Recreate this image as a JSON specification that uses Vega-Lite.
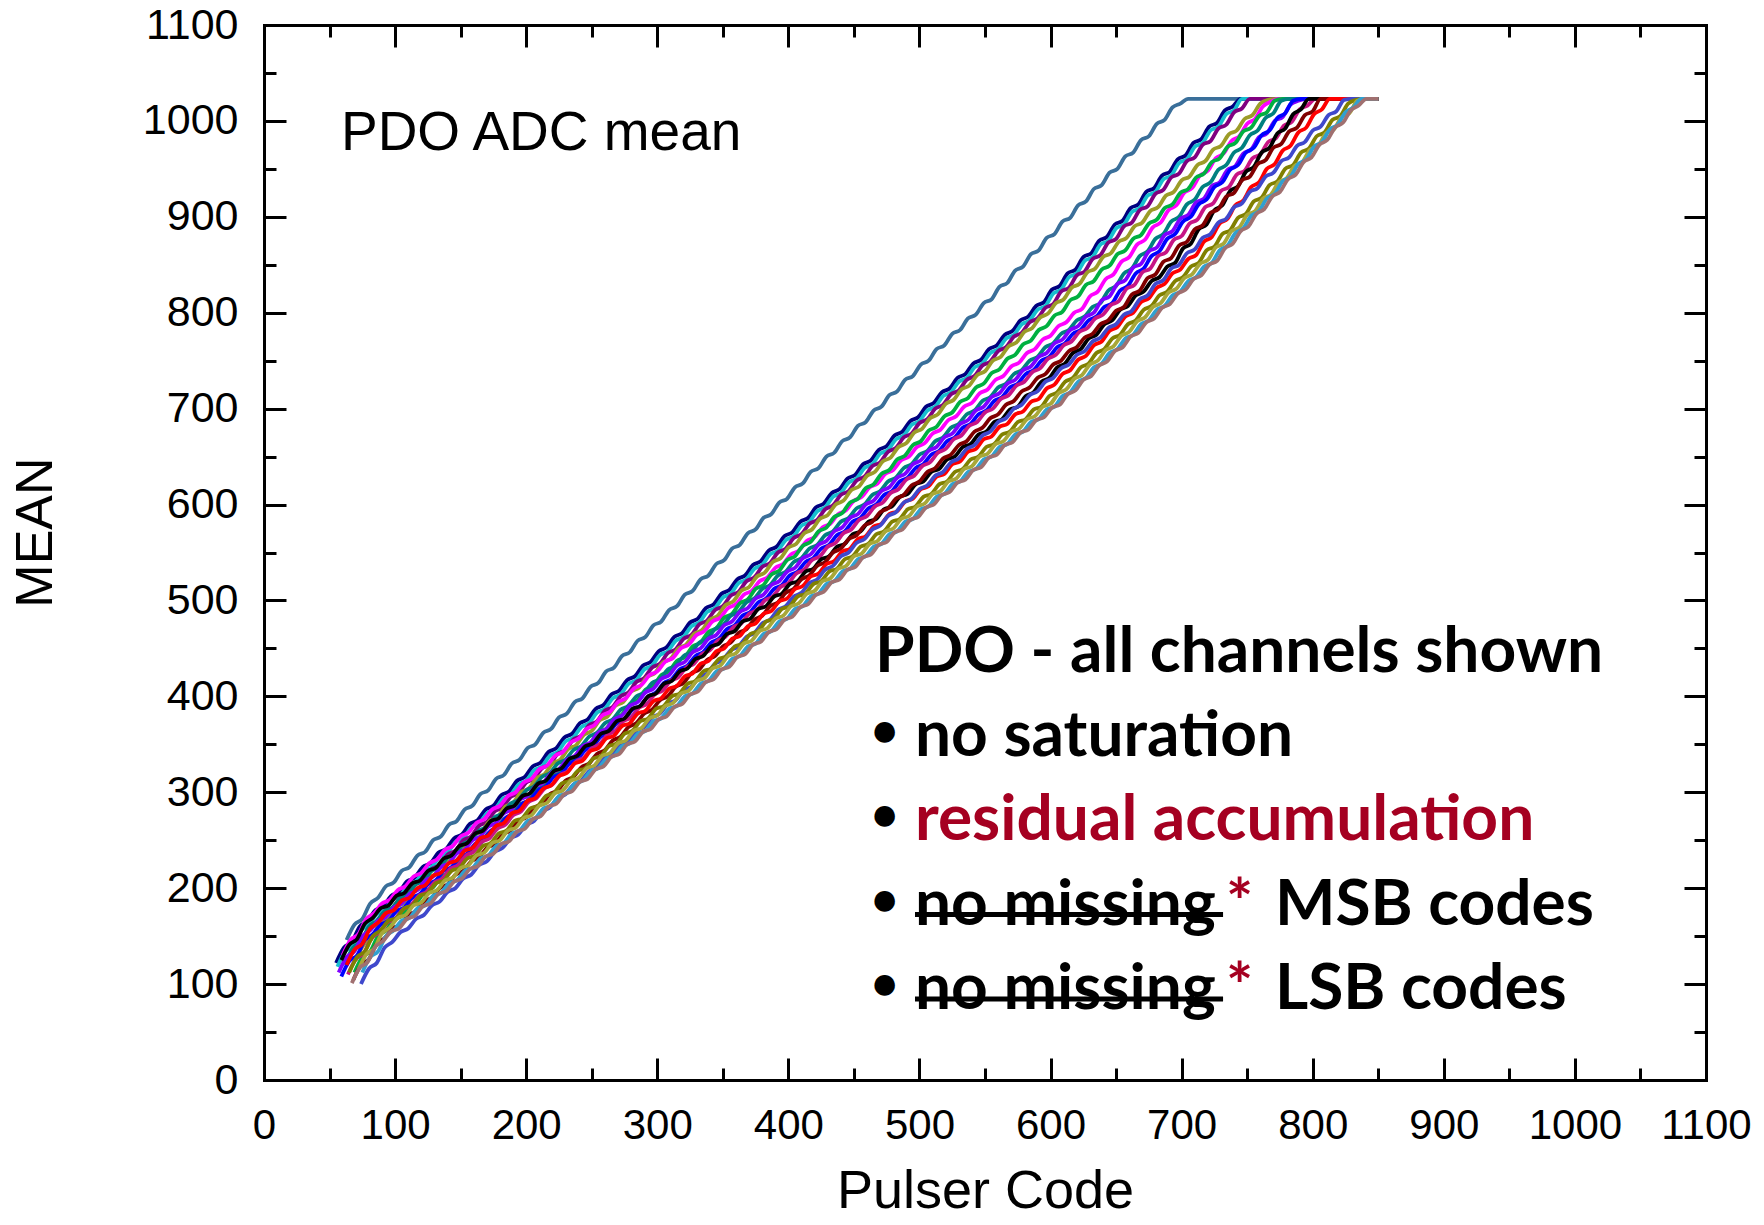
{
"$schema":"https://vega.github.io/schema/vega-lite/v6.json",
"width":1442,"height":1055,
"autosize":{"type":"none"},
"padding":{"left":264,"top":25,"right":58,"bottom":145},
"background":"white",
"config":{"view":{"stroke":null}},
"resolve":{"axis":{"x":"independent","y":"independent"}},
"layer":[
{"data":{"values":[
{"c":0,"x":63,"y":146},{"c":0,"x":69,"y":162},{"c":0,"x":75,"y":168},{"c":0,"x":81,"y":184},{"c":0,"x":87,"y":190},{"c":0,"x":93,"y":202},{"c":0,"x":99,"y":206},{"c":0,"x":105,"y":218},{"c":0,"x":111,"y":222},{"c":0,"x":117,"y":234},{"c":0,"x":123,"y":238},{"c":0,"x":129,"y":250},{"c":0,"x":135,"y":254},{"c":0,"x":141,"y":266},{"c":0,"x":147,"y":270},{"c":0,"x":153,"y":282},{"c":0,"x":159,"y":286},{"c":0,"x":165,"y":298},{"c":0,"x":171,"y":302},{"c":0,"x":177,"y":314},{"c":0,"x":183,"y":318},{"c":0,"x":189,"y":330},{"c":0,"x":195,"y":334},{"c":0,"x":201,"y":346},{"c":0,"x":207,"y":350},{"c":0,"x":213,"y":362},{"c":0,"x":219,"y":366},{"c":0,"x":225,"y":378},{"c":0,"x":231,"y":382},{"c":0,"x":237,"y":394},{"c":0,"x":243,"y":398},{"c":0,"x":249,"y":410},{"c":0,"x":255,"y":414},{"c":0,"x":261,"y":426},{"c":0,"x":267,"y":430},{"c":0,"x":273,"y":442},{"c":0,"x":279,"y":446},{"c":0,"x":285,"y":458},{"c":0,"x":291,"y":462},{"c":0,"x":297,"y":474},{"c":0,"x":303,"y":478},{"c":0,"x":309,"y":490},{"c":0,"x":315,"y":494},{"c":0,"x":321,"y":506},{"c":0,"x":327,"y":510},{"c":0,"x":333,"y":522},{"c":0,"x":339,"y":526},{"c":0,"x":345,"y":538},{"c":0,"x":351,"y":542},{"c":0,"x":357,"y":554},{"c":0,"x":363,"y":558},{"c":0,"x":369,"y":570},{"c":0,"x":375,"y":574},{"c":0,"x":381,"y":586},{"c":0,"x":387,"y":590},{"c":0,"x":393,"y":602},{"c":0,"x":399,"y":606},{"c":0,"x":405,"y":618},{"c":0,"x":411,"y":622},{"c":0,"x":417,"y":634},{"c":0,"x":423,"y":638},{"c":0,"x":429,"y":650},{"c":0,"x":435,"y":654},{"c":0,"x":441,"y":666},{"c":0,"x":447,"y":670},{"c":0,"x":453,"y":682},{"c":0,"x":459,"y":686},{"c":0,"x":465,"y":698},{"c":0,"x":471,"y":702},{"c":0,"x":477,"y":714},{"c":0,"x":483,"y":718},{"c":0,"x":489,"y":730},{"c":0,"x":495,"y":734},{"c":0,"x":501,"y":746},{"c":0,"x":507,"y":750},{"c":0,"x":513,"y":762},{"c":0,"x":519,"y":766},{"c":0,"x":525,"y":778},{"c":0,"x":531,"y":782},{"c":0,"x":537,"y":794},{"c":0,"x":543,"y":798},{"c":0,"x":549,"y":810},{"c":0,"x":555,"y":814},{"c":0,"x":561,"y":827},{"c":0,"x":567,"y":831},{"c":0,"x":573,"y":844},{"c":0,"x":579,"y":848},{"c":0,"x":585,"y":861},{"c":0,"x":591,"y":865},{"c":0,"x":597,"y":878},{"c":0,"x":603,"y":882},{"c":0,"x":609,"y":895},{"c":0,"x":615,"y":899},{"c":0,"x":621,"y":912},{"c":0,"x":627,"y":916},{"c":0,"x":633,"y":929},{"c":0,"x":639,"y":933},{"c":0,"x":645,"y":946},{"c":0,"x":651,"y":950},{"c":0,"x":657,"y":963},{"c":0,"x":663,"y":967},{"c":0,"x":669,"y":980},{"c":0,"x":675,"y":984},{"c":0,"x":681,"y":997},{"c":0,"x":687,"y":1001},{"c":0,"x":693,"y":1014},{"c":0,"x":699,"y":1018},{"c":0,"x":705,"y":1023},{"c":0,"x":850,"y":1023},
{"c":1,"x":55,"y":122},{"c":1,"x":61,"y":138},{"c":1,"x":67,"y":144},{"c":1,"x":73,"y":160},{"c":1,"x":79,"y":166},{"c":1,"x":85,"y":177},{"c":1,"x":91,"y":181},{"c":1,"x":97,"y":192},{"c":1,"x":103,"y":196},{"c":1,"x":109,"y":207},{"c":1,"x":115,"y":211},{"c":1,"x":121,"y":222},{"c":1,"x":127,"y":226},{"c":1,"x":133,"y":237},{"c":1,"x":139,"y":241},{"c":1,"x":145,"y":252},{"c":1,"x":151,"y":256},{"c":1,"x":157,"y":267},{"c":1,"x":163,"y":271},{"c":1,"x":169,"y":282},{"c":1,"x":175,"y":286},{"c":1,"x":181,"y":297},{"c":1,"x":187,"y":301},{"c":1,"x":193,"y":312},{"c":1,"x":199,"y":316},{"c":1,"x":205,"y":327},{"c":1,"x":211,"y":331},{"c":1,"x":217,"y":342},{"c":1,"x":223,"y":346},{"c":1,"x":229,"y":357},{"c":1,"x":235,"y":361},{"c":1,"x":241,"y":372},{"c":1,"x":247,"y":376},{"c":1,"x":253,"y":387},{"c":1,"x":259,"y":391},{"c":1,"x":265,"y":402},{"c":1,"x":271,"y":406},{"c":1,"x":277,"y":417},{"c":1,"x":283,"y":421},{"c":1,"x":289,"y":432},{"c":1,"x":295,"y":436},{"c":1,"x":301,"y":447},{"c":1,"x":307,"y":451},{"c":1,"x":313,"y":462},{"c":1,"x":319,"y":466},{"c":1,"x":325,"y":477},{"c":1,"x":331,"y":481},{"c":1,"x":337,"y":492},{"c":1,"x":343,"y":496},{"c":1,"x":349,"y":507},{"c":1,"x":355,"y":511},{"c":1,"x":361,"y":522},{"c":1,"x":367,"y":526},{"c":1,"x":373,"y":537},{"c":1,"x":379,"y":541},{"c":1,"x":385,"y":552},{"c":1,"x":391,"y":556},{"c":1,"x":397,"y":567},{"c":1,"x":403,"y":571},{"c":1,"x":409,"y":582},{"c":1,"x":415,"y":586},{"c":1,"x":421,"y":597},{"c":1,"x":427,"y":601},{"c":1,"x":433,"y":612},{"c":1,"x":439,"y":616},{"c":1,"x":445,"y":627},{"c":1,"x":451,"y":631},{"c":1,"x":457,"y":642},{"c":1,"x":463,"y":646},{"c":1,"x":469,"y":657},{"c":1,"x":475,"y":661},{"c":1,"x":481,"y":672},{"c":1,"x":487,"y":676},{"c":1,"x":493,"y":687},{"c":1,"x":499,"y":691},{"c":1,"x":505,"y":702},{"c":1,"x":511,"y":706},{"c":1,"x":517,"y":717},{"c":1,"x":523,"y":721},{"c":1,"x":529,"y":732},{"c":1,"x":535,"y":736},{"c":1,"x":541,"y":747},{"c":1,"x":547,"y":751},{"c":1,"x":553,"y":762},{"c":1,"x":559,"y":766},{"c":1,"x":565,"y":777},{"c":1,"x":571,"y":781},{"c":1,"x":577,"y":792},{"c":1,"x":583,"y":796},{"c":1,"x":589,"y":807},{"c":1,"x":595,"y":811},{"c":1,"x":601,"y":824},{"c":1,"x":607,"y":828},{"c":1,"x":613,"y":841},{"c":1,"x":619,"y":845},{"c":1,"x":625,"y":858},{"c":1,"x":631,"y":862},{"c":1,"x":637,"y":875},{"c":1,"x":643,"y":879},{"c":1,"x":649,"y":892},{"c":1,"x":655,"y":896},{"c":1,"x":661,"y":909},{"c":1,"x":667,"y":913},{"c":1,"x":673,"y":926},{"c":1,"x":679,"y":930},{"c":1,"x":685,"y":943},{"c":1,"x":691,"y":947},{"c":1,"x":697,"y":960},{"c":1,"x":703,"y":964},{"c":1,"x":709,"y":977},{"c":1,"x":715,"y":981},{"c":1,"x":721,"y":994},{"c":1,"x":727,"y":998},{"c":1,"x":733,"y":1011},{"c":1,"x":739,"y":1015},{"c":1,"x":745,"y":1023},{"c":1,"x":850,"y":1023},
{"c":2,"x":56,"y":118},{"c":2,"x":62,"y":134},{"c":2,"x":68,"y":140},{"c":2,"x":74,"y":156},{"c":2,"x":80,"y":162},{"c":2,"x":86,"y":173},{"c":2,"x":92,"y":177},{"c":2,"x":98,"y":188},{"c":2,"x":104,"y":192},{"c":2,"x":110,"y":203},{"c":2,"x":116,"y":207},{"c":2,"x":122,"y":218},{"c":2,"x":128,"y":222},{"c":2,"x":134,"y":233},{"c":2,"x":140,"y":237},{"c":2,"x":146,"y":248},{"c":2,"x":152,"y":252},{"c":2,"x":158,"y":263},{"c":2,"x":164,"y":267},{"c":2,"x":170,"y":278},{"c":2,"x":176,"y":282},{"c":2,"x":182,"y":293},{"c":2,"x":188,"y":297},{"c":2,"x":194,"y":308},{"c":2,"x":200,"y":312},{"c":2,"x":206,"y":323},{"c":2,"x":212,"y":327},{"c":2,"x":218,"y":338},{"c":2,"x":224,"y":342},{"c":2,"x":230,"y":353},{"c":2,"x":236,"y":357},{"c":2,"x":242,"y":368},{"c":2,"x":248,"y":372},{"c":2,"x":254,"y":383},{"c":2,"x":260,"y":387},{"c":2,"x":266,"y":398},{"c":2,"x":272,"y":402},{"c":2,"x":278,"y":413},{"c":2,"x":284,"y":417},{"c":2,"x":290,"y":428},{"c":2,"x":296,"y":432},{"c":2,"x":302,"y":443},{"c":2,"x":308,"y":447},{"c":2,"x":314,"y":458},{"c":2,"x":320,"y":462},{"c":2,"x":326,"y":473},{"c":2,"x":332,"y":477},{"c":2,"x":338,"y":488},{"c":2,"x":344,"y":492},{"c":2,"x":350,"y":503},{"c":2,"x":356,"y":507},{"c":2,"x":362,"y":518},{"c":2,"x":368,"y":522},{"c":2,"x":374,"y":533},{"c":2,"x":380,"y":537},{"c":2,"x":386,"y":548},{"c":2,"x":392,"y":552},{"c":2,"x":398,"y":563},{"c":2,"x":404,"y":567},{"c":2,"x":410,"y":578},{"c":2,"x":416,"y":582},{"c":2,"x":422,"y":593},{"c":2,"x":428,"y":597},{"c":2,"x":434,"y":608},{"c":2,"x":440,"y":612},{"c":2,"x":446,"y":623},{"c":2,"x":452,"y":627},{"c":2,"x":458,"y":638},{"c":2,"x":464,"y":642},{"c":2,"x":470,"y":653},{"c":2,"x":476,"y":657},{"c":2,"x":482,"y":668},{"c":2,"x":488,"y":672},{"c":2,"x":494,"y":683},{"c":2,"x":500,"y":687},{"c":2,"x":506,"y":698},{"c":2,"x":512,"y":702},{"c":2,"x":518,"y":713},{"c":2,"x":524,"y":717},{"c":2,"x":530,"y":728},{"c":2,"x":536,"y":732},{"c":2,"x":542,"y":743},{"c":2,"x":548,"y":747},{"c":2,"x":554,"y":758},{"c":2,"x":560,"y":762},{"c":2,"x":566,"y":773},{"c":2,"x":572,"y":777},{"c":2,"x":578,"y":788},{"c":2,"x":584,"y":792},{"c":2,"x":590,"y":803},{"c":2,"x":596,"y":807},{"c":2,"x":602,"y":820},{"c":2,"x":608,"y":824},{"c":2,"x":614,"y":837},{"c":2,"x":620,"y":841},{"c":2,"x":626,"y":854},{"c":2,"x":632,"y":858},{"c":2,"x":638,"y":871},{"c":2,"x":644,"y":875},{"c":2,"x":650,"y":888},{"c":2,"x":656,"y":892},{"c":2,"x":662,"y":905},{"c":2,"x":668,"y":909},{"c":2,"x":674,"y":922},{"c":2,"x":680,"y":926},{"c":2,"x":686,"y":939},{"c":2,"x":692,"y":943},{"c":2,"x":698,"y":956},{"c":2,"x":704,"y":960},{"c":2,"x":710,"y":973},{"c":2,"x":716,"y":977},{"c":2,"x":722,"y":990},{"c":2,"x":728,"y":994},{"c":2,"x":734,"y":1007},{"c":2,"x":740,"y":1011},{"c":2,"x":746,"y":1023},{"c":2,"x":850,"y":1023},
{"c":3,"x":62,"y":120},{"c":3,"x":68,"y":136},{"c":3,"x":74,"y":142},{"c":3,"x":80,"y":158},{"c":3,"x":86,"y":164},{"c":3,"x":92,"y":175},{"c":3,"x":98,"y":179},{"c":3,"x":104,"y":190},{"c":3,"x":110,"y":194},{"c":3,"x":116,"y":205},{"c":3,"x":122,"y":209},{"c":3,"x":128,"y":220},{"c":3,"x":134,"y":224},{"c":3,"x":140,"y":235},{"c":3,"x":146,"y":239},{"c":3,"x":152,"y":250},{"c":3,"x":158,"y":254},{"c":3,"x":164,"y":265},{"c":3,"x":170,"y":269},{"c":3,"x":176,"y":280},{"c":3,"x":182,"y":284},{"c":3,"x":188,"y":295},{"c":3,"x":194,"y":299},{"c":3,"x":200,"y":310},{"c":3,"x":206,"y":314},{"c":3,"x":212,"y":325},{"c":3,"x":218,"y":329},{"c":3,"x":224,"y":340},{"c":3,"x":230,"y":344},{"c":3,"x":236,"y":355},{"c":3,"x":242,"y":359},{"c":3,"x":248,"y":370},{"c":3,"x":254,"y":374},{"c":3,"x":260,"y":385},{"c":3,"x":266,"y":389},{"c":3,"x":272,"y":400},{"c":3,"x":278,"y":404},{"c":3,"x":284,"y":415},{"c":3,"x":290,"y":419},{"c":3,"x":296,"y":430},{"c":3,"x":302,"y":434},{"c":3,"x":308,"y":445},{"c":3,"x":314,"y":449},{"c":3,"x":320,"y":460},{"c":3,"x":326,"y":464},{"c":3,"x":332,"y":475},{"c":3,"x":338,"y":479},{"c":3,"x":344,"y":490},{"c":3,"x":350,"y":494},{"c":3,"x":356,"y":505},{"c":3,"x":362,"y":509},{"c":3,"x":368,"y":520},{"c":3,"x":374,"y":524},{"c":3,"x":380,"y":535},{"c":3,"x":386,"y":539},{"c":3,"x":392,"y":550},{"c":3,"x":398,"y":554},{"c":3,"x":404,"y":565},{"c":3,"x":410,"y":569},{"c":3,"x":416,"y":580},{"c":3,"x":422,"y":584},{"c":3,"x":428,"y":595},{"c":3,"x":434,"y":599},{"c":3,"x":440,"y":610},{"c":3,"x":446,"y":614},{"c":3,"x":452,"y":625},{"c":3,"x":458,"y":629},{"c":3,"x":464,"y":640},{"c":3,"x":470,"y":644},{"c":3,"x":476,"y":655},{"c":3,"x":482,"y":659},{"c":3,"x":488,"y":670},{"c":3,"x":494,"y":674},{"c":3,"x":500,"y":685},{"c":3,"x":506,"y":689},{"c":3,"x":512,"y":700},{"c":3,"x":518,"y":704},{"c":3,"x":524,"y":715},{"c":3,"x":530,"y":719},{"c":3,"x":536,"y":730},{"c":3,"x":542,"y":734},{"c":3,"x":548,"y":745},{"c":3,"x":554,"y":749},{"c":3,"x":560,"y":760},{"c":3,"x":566,"y":764},{"c":3,"x":572,"y":775},{"c":3,"x":578,"y":779},{"c":3,"x":584,"y":790},{"c":3,"x":590,"y":794},{"c":3,"x":596,"y":805},{"c":3,"x":602,"y":809},{"c":3,"x":608,"y":822},{"c":3,"x":614,"y":826},{"c":3,"x":620,"y":839},{"c":3,"x":626,"y":843},{"c":3,"x":632,"y":856},{"c":3,"x":638,"y":860},{"c":3,"x":644,"y":873},{"c":3,"x":650,"y":877},{"c":3,"x":656,"y":890},{"c":3,"x":662,"y":894},{"c":3,"x":668,"y":907},{"c":3,"x":674,"y":911},{"c":3,"x":680,"y":924},{"c":3,"x":686,"y":928},{"c":3,"x":692,"y":941},{"c":3,"x":698,"y":945},{"c":3,"x":704,"y":958},{"c":3,"x":710,"y":962},{"c":3,"x":716,"y":975},{"c":3,"x":722,"y":979},{"c":3,"x":728,"y":992},{"c":3,"x":734,"y":996},{"c":3,"x":740,"y":1009},{"c":3,"x":746,"y":1013},{"c":3,"x":752,"y":1023},{"c":3,"x":850,"y":1023},
{"c":4,"x":70,"y":125},{"c":4,"x":76,"y":141},{"c":4,"x":82,"y":147},{"c":4,"x":88,"y":163},{"c":4,"x":94,"y":169},{"c":4,"x":100,"y":180},{"c":4,"x":106,"y":184},{"c":4,"x":112,"y":195},{"c":4,"x":118,"y":199},{"c":4,"x":124,"y":210},{"c":4,"x":130,"y":214},{"c":4,"x":136,"y":225},{"c":4,"x":142,"y":229},{"c":4,"x":148,"y":240},{"c":4,"x":154,"y":244},{"c":4,"x":160,"y":255},{"c":4,"x":166,"y":259},{"c":4,"x":172,"y":270},{"c":4,"x":178,"y":274},{"c":4,"x":184,"y":285},{"c":4,"x":190,"y":289},{"c":4,"x":196,"y":300},{"c":4,"x":202,"y":304},{"c":4,"x":208,"y":315},{"c":4,"x":214,"y":319},{"c":4,"x":220,"y":330},{"c":4,"x":226,"y":334},{"c":4,"x":232,"y":345},{"c":4,"x":238,"y":349},{"c":4,"x":244,"y":360},{"c":4,"x":250,"y":364},{"c":4,"x":256,"y":375},{"c":4,"x":262,"y":379},{"c":4,"x":268,"y":390},{"c":4,"x":274,"y":394},{"c":4,"x":280,"y":405},{"c":4,"x":286,"y":409},{"c":4,"x":292,"y":420},{"c":4,"x":298,"y":424},{"c":4,"x":304,"y":435},{"c":4,"x":310,"y":439},{"c":4,"x":316,"y":450},{"c":4,"x":322,"y":454},{"c":4,"x":328,"y":465},{"c":4,"x":334,"y":469},{"c":4,"x":340,"y":480},{"c":4,"x":346,"y":484},{"c":4,"x":352,"y":495},{"c":4,"x":358,"y":499},{"c":4,"x":364,"y":510},{"c":4,"x":370,"y":514},{"c":4,"x":376,"y":525},{"c":4,"x":382,"y":529},{"c":4,"x":388,"y":540},{"c":4,"x":394,"y":544},{"c":4,"x":400,"y":555},{"c":4,"x":406,"y":559},{"c":4,"x":412,"y":570},{"c":4,"x":418,"y":574},{"c":4,"x":424,"y":585},{"c":4,"x":430,"y":589},{"c":4,"x":436,"y":600},{"c":4,"x":442,"y":604},{"c":4,"x":448,"y":615},{"c":4,"x":454,"y":619},{"c":4,"x":460,"y":630},{"c":4,"x":466,"y":634},{"c":4,"x":472,"y":645},{"c":4,"x":478,"y":649},{"c":4,"x":484,"y":660},{"c":4,"x":490,"y":664},{"c":4,"x":496,"y":675},{"c":4,"x":502,"y":679},{"c":4,"x":508,"y":690},{"c":4,"x":514,"y":694},{"c":4,"x":520,"y":705},{"c":4,"x":526,"y":709},{"c":4,"x":532,"y":720},{"c":4,"x":538,"y":724},{"c":4,"x":544,"y":735},{"c":4,"x":550,"y":739},{"c":4,"x":556,"y":750},{"c":4,"x":562,"y":754},{"c":4,"x":568,"y":765},{"c":4,"x":574,"y":769},{"c":4,"x":580,"y":780},{"c":4,"x":586,"y":784},{"c":4,"x":592,"y":795},{"c":4,"x":598,"y":799},{"c":4,"x":604,"y":810},{"c":4,"x":610,"y":814},{"c":4,"x":616,"y":826},{"c":4,"x":622,"y":830},{"c":4,"x":628,"y":842},{"c":4,"x":634,"y":846},{"c":4,"x":640,"y":858},{"c":4,"x":646,"y":862},{"c":4,"x":652,"y":874},{"c":4,"x":658,"y":878},{"c":4,"x":664,"y":890},{"c":4,"x":670,"y":894},{"c":4,"x":676,"y":906},{"c":4,"x":682,"y":910},{"c":4,"x":688,"y":922},{"c":4,"x":694,"y":926},{"c":4,"x":700,"y":938},{"c":4,"x":706,"y":942},{"c":4,"x":712,"y":954},{"c":4,"x":718,"y":958},{"c":4,"x":724,"y":970},{"c":4,"x":730,"y":974},{"c":4,"x":736,"y":986},{"c":4,"x":742,"y":990},{"c":4,"x":748,"y":1002},{"c":4,"x":754,"y":1006},{"c":4,"x":760,"y":1018},{"c":4,"x":766,"y":1022},{"c":4,"x":772,"y":1023},{"c":4,"x":850,"y":1023},
{"c":5,"x":60,"y":130},{"c":5,"x":66,"y":146},{"c":5,"x":72,"y":152},{"c":5,"x":78,"y":168},{"c":5,"x":84,"y":174},{"c":5,"x":90,"y":184},{"c":5,"x":96,"y":188},{"c":5,"x":102,"y":198},{"c":5,"x":108,"y":202},{"c":5,"x":114,"y":212},{"c":5,"x":120,"y":216},{"c":5,"x":126,"y":226},{"c":5,"x":132,"y":230},{"c":5,"x":138,"y":240},{"c":5,"x":144,"y":244},{"c":5,"x":150,"y":254},{"c":5,"x":156,"y":258},{"c":5,"x":162,"y":268},{"c":5,"x":168,"y":272},{"c":5,"x":174,"y":282},{"c":5,"x":180,"y":286},{"c":5,"x":186,"y":296},{"c":5,"x":192,"y":300},{"c":5,"x":198,"y":310},{"c":5,"x":204,"y":314},{"c":5,"x":210,"y":324},{"c":5,"x":216,"y":328},{"c":5,"x":222,"y":338},{"c":5,"x":228,"y":342},{"c":5,"x":234,"y":352},{"c":5,"x":240,"y":356},{"c":5,"x":246,"y":366},{"c":5,"x":252,"y":370},{"c":5,"x":258,"y":380},{"c":5,"x":264,"y":384},{"c":5,"x":270,"y":394},{"c":5,"x":276,"y":398},{"c":5,"x":282,"y":408},{"c":5,"x":288,"y":412},{"c":5,"x":294,"y":422},{"c":5,"x":300,"y":426},{"c":5,"x":306,"y":436},{"c":5,"x":312,"y":440},{"c":5,"x":318,"y":450},{"c":5,"x":324,"y":454},{"c":5,"x":330,"y":464},{"c":5,"x":336,"y":468},{"c":5,"x":342,"y":478},{"c":5,"x":348,"y":482},{"c":5,"x":354,"y":492},{"c":5,"x":360,"y":496},{"c":5,"x":366,"y":506},{"c":5,"x":372,"y":510},{"c":5,"x":378,"y":520},{"c":5,"x":384,"y":524},{"c":5,"x":390,"y":534},{"c":5,"x":396,"y":538},{"c":5,"x":402,"y":548},{"c":5,"x":408,"y":552},{"c":5,"x":414,"y":562},{"c":5,"x":420,"y":566},{"c":5,"x":426,"y":576},{"c":5,"x":432,"y":580},{"c":5,"x":438,"y":590},{"c":5,"x":444,"y":594},{"c":5,"x":450,"y":604},{"c":5,"x":456,"y":608},{"c":5,"x":462,"y":618},{"c":5,"x":468,"y":622},{"c":5,"x":474,"y":632},{"c":5,"x":480,"y":636},{"c":5,"x":486,"y":646},{"c":5,"x":492,"y":650},{"c":5,"x":498,"y":660},{"c":5,"x":504,"y":664},{"c":5,"x":510,"y":674},{"c":5,"x":516,"y":678},{"c":5,"x":522,"y":688},{"c":5,"x":528,"y":692},{"c":5,"x":534,"y":702},{"c":5,"x":540,"y":706},{"c":5,"x":546,"y":716},{"c":5,"x":552,"y":720},{"c":5,"x":558,"y":730},{"c":5,"x":564,"y":734},{"c":5,"x":570,"y":744},{"c":5,"x":576,"y":748},{"c":5,"x":582,"y":758},{"c":5,"x":588,"y":762},{"c":5,"x":594,"y":772},{"c":5,"x":600,"y":776},{"c":5,"x":606,"y":786},{"c":5,"x":612,"y":790},{"c":5,"x":618,"y":800},{"c":5,"x":624,"y":804},{"c":5,"x":630,"y":817},{"c":5,"x":636,"y":822},{"c":5,"x":642,"y":835},{"c":5,"x":648,"y":840},{"c":5,"x":654,"y":853},{"c":5,"x":660,"y":858},{"c":5,"x":666,"y":871},{"c":5,"x":672,"y":876},{"c":5,"x":678,"y":889},{"c":5,"x":684,"y":894},{"c":5,"x":690,"y":907},{"c":5,"x":696,"y":912},{"c":5,"x":702,"y":925},{"c":5,"x":708,"y":930},{"c":5,"x":714,"y":943},{"c":5,"x":720,"y":948},{"c":5,"x":726,"y":961},{"c":5,"x":732,"y":966},{"c":5,"x":738,"y":979},{"c":5,"x":744,"y":984},{"c":5,"x":750,"y":997},{"c":5,"x":756,"y":1002},{"c":5,"x":762,"y":1015},{"c":5,"x":768,"y":1020},{"c":5,"x":774,"y":1023},{"c":5,"x":850,"y":1023},
{"c":6,"x":69,"y":112},{"c":6,"x":75,"y":128},{"c":6,"x":81,"y":134},{"c":6,"x":87,"y":150},{"c":6,"x":93,"y":156},{"c":6,"x":99,"y":167},{"c":6,"x":105,"y":171},{"c":6,"x":111,"y":182},{"c":6,"x":117,"y":186},{"c":6,"x":123,"y":197},{"c":6,"x":129,"y":201},{"c":6,"x":135,"y":212},{"c":6,"x":141,"y":216},{"c":6,"x":147,"y":227},{"c":6,"x":153,"y":231},{"c":6,"x":159,"y":242},{"c":6,"x":165,"y":246},{"c":6,"x":171,"y":257},{"c":6,"x":177,"y":261},{"c":6,"x":183,"y":272},{"c":6,"x":189,"y":276},{"c":6,"x":195,"y":287},{"c":6,"x":201,"y":291},{"c":6,"x":207,"y":302},{"c":6,"x":213,"y":306},{"c":6,"x":219,"y":317},{"c":6,"x":225,"y":321},{"c":6,"x":231,"y":332},{"c":6,"x":237,"y":336},{"c":6,"x":243,"y":347},{"c":6,"x":249,"y":351},{"c":6,"x":255,"y":362},{"c":6,"x":261,"y":366},{"c":6,"x":267,"y":377},{"c":6,"x":273,"y":381},{"c":6,"x":279,"y":392},{"c":6,"x":285,"y":396},{"c":6,"x":291,"y":407},{"c":6,"x":297,"y":411},{"c":6,"x":303,"y":422},{"c":6,"x":309,"y":426},{"c":6,"x":315,"y":437},{"c":6,"x":321,"y":441},{"c":6,"x":327,"y":452},{"c":6,"x":333,"y":456},{"c":6,"x":339,"y":467},{"c":6,"x":345,"y":471},{"c":6,"x":351,"y":482},{"c":6,"x":357,"y":486},{"c":6,"x":363,"y":497},{"c":6,"x":369,"y":501},{"c":6,"x":375,"y":512},{"c":6,"x":381,"y":516},{"c":6,"x":387,"y":527},{"c":6,"x":393,"y":531},{"c":6,"x":399,"y":542},{"c":6,"x":405,"y":546},{"c":6,"x":411,"y":557},{"c":6,"x":417,"y":561},{"c":6,"x":423,"y":572},{"c":6,"x":429,"y":576},{"c":6,"x":435,"y":587},{"c":6,"x":441,"y":591},{"c":6,"x":447,"y":602},{"c":6,"x":453,"y":606},{"c":6,"x":459,"y":617},{"c":6,"x":465,"y":621},{"c":6,"x":471,"y":632},{"c":6,"x":477,"y":636},{"c":6,"x":483,"y":647},{"c":6,"x":489,"y":651},{"c":6,"x":495,"y":662},{"c":6,"x":501,"y":666},{"c":6,"x":507,"y":677},{"c":6,"x":513,"y":681},{"c":6,"x":519,"y":692},{"c":6,"x":525,"y":696},{"c":6,"x":531,"y":707},{"c":6,"x":537,"y":711},{"c":6,"x":543,"y":722},{"c":6,"x":549,"y":726},{"c":6,"x":555,"y":737},{"c":6,"x":561,"y":741},{"c":6,"x":567,"y":752},{"c":6,"x":573,"y":756},{"c":6,"x":579,"y":767},{"c":6,"x":585,"y":771},{"c":6,"x":591,"y":782},{"c":6,"x":597,"y":786},{"c":6,"x":603,"y":797},{"c":6,"x":609,"y":801},{"c":6,"x":615,"y":813},{"c":6,"x":621,"y":817},{"c":6,"x":627,"y":829},{"c":6,"x":633,"y":833},{"c":6,"x":639,"y":845},{"c":6,"x":645,"y":849},{"c":6,"x":651,"y":861},{"c":6,"x":657,"y":865},{"c":6,"x":663,"y":877},{"c":6,"x":669,"y":881},{"c":6,"x":675,"y":893},{"c":6,"x":681,"y":897},{"c":6,"x":687,"y":909},{"c":6,"x":693,"y":913},{"c":6,"x":699,"y":925},{"c":6,"x":705,"y":929},{"c":6,"x":711,"y":941},{"c":6,"x":717,"y":945},{"c":6,"x":723,"y":957},{"c":6,"x":729,"y":961},{"c":6,"x":735,"y":973},{"c":6,"x":741,"y":977},{"c":6,"x":747,"y":989},{"c":6,"x":753,"y":993},{"c":6,"x":759,"y":1005},{"c":6,"x":765,"y":1009},{"c":6,"x":771,"y":1021},{"c":6,"x":777,"y":1023},{"c":6,"x":850,"y":1023},
{"c":7,"x":62,"y":122},{"c":7,"x":68,"y":138},{"c":7,"x":74,"y":144},{"c":7,"x":80,"y":160},{"c":7,"x":86,"y":166},{"c":7,"x":92,"y":176},{"c":7,"x":98,"y":180},{"c":7,"x":104,"y":190},{"c":7,"x":110,"y":194},{"c":7,"x":116,"y":204},{"c":7,"x":122,"y":208},{"c":7,"x":128,"y":218},{"c":7,"x":134,"y":222},{"c":7,"x":140,"y":232},{"c":7,"x":146,"y":236},{"c":7,"x":152,"y":246},{"c":7,"x":158,"y":250},{"c":7,"x":164,"y":260},{"c":7,"x":170,"y":264},{"c":7,"x":176,"y":274},{"c":7,"x":182,"y":278},{"c":7,"x":188,"y":288},{"c":7,"x":194,"y":292},{"c":7,"x":200,"y":302},{"c":7,"x":206,"y":306},{"c":7,"x":212,"y":316},{"c":7,"x":218,"y":320},{"c":7,"x":224,"y":330},{"c":7,"x":230,"y":334},{"c":7,"x":236,"y":344},{"c":7,"x":242,"y":348},{"c":7,"x":248,"y":358},{"c":7,"x":254,"y":362},{"c":7,"x":260,"y":372},{"c":7,"x":266,"y":376},{"c":7,"x":272,"y":386},{"c":7,"x":278,"y":390},{"c":7,"x":284,"y":400},{"c":7,"x":290,"y":404},{"c":7,"x":296,"y":414},{"c":7,"x":302,"y":418},{"c":7,"x":308,"y":428},{"c":7,"x":314,"y":432},{"c":7,"x":320,"y":442},{"c":7,"x":326,"y":446},{"c":7,"x":332,"y":456},{"c":7,"x":338,"y":460},{"c":7,"x":344,"y":470},{"c":7,"x":350,"y":474},{"c":7,"x":356,"y":484},{"c":7,"x":362,"y":488},{"c":7,"x":368,"y":498},{"c":7,"x":374,"y":502},{"c":7,"x":380,"y":512},{"c":7,"x":386,"y":516},{"c":7,"x":392,"y":526},{"c":7,"x":398,"y":530},{"c":7,"x":404,"y":540},{"c":7,"x":410,"y":544},{"c":7,"x":416,"y":554},{"c":7,"x":422,"y":558},{"c":7,"x":428,"y":568},{"c":7,"x":434,"y":572},{"c":7,"x":440,"y":582},{"c":7,"x":446,"y":586},{"c":7,"x":452,"y":596},{"c":7,"x":458,"y":600},{"c":7,"x":464,"y":610},{"c":7,"x":470,"y":614},{"c":7,"x":476,"y":624},{"c":7,"x":482,"y":628},{"c":7,"x":488,"y":638},{"c":7,"x":494,"y":642},{"c":7,"x":500,"y":652},{"c":7,"x":506,"y":656},{"c":7,"x":512,"y":666},{"c":7,"x":518,"y":670},{"c":7,"x":524,"y":680},{"c":7,"x":530,"y":684},{"c":7,"x":536,"y":694},{"c":7,"x":542,"y":698},{"c":7,"x":548,"y":708},{"c":7,"x":554,"y":712},{"c":7,"x":560,"y":722},{"c":7,"x":566,"y":726},{"c":7,"x":572,"y":736},{"c":7,"x":578,"y":740},{"c":7,"x":584,"y":750},{"c":7,"x":590,"y":754},{"c":7,"x":596,"y":764},{"c":7,"x":602,"y":768},{"c":7,"x":608,"y":778},{"c":7,"x":614,"y":782},{"c":7,"x":620,"y":792},{"c":7,"x":626,"y":796},{"c":7,"x":632,"y":806},{"c":7,"x":638,"y":810},{"c":7,"x":644,"y":823},{"c":7,"x":650,"y":828},{"c":7,"x":656,"y":841},{"c":7,"x":662,"y":846},{"c":7,"x":668,"y":859},{"c":7,"x":674,"y":864},{"c":7,"x":680,"y":877},{"c":7,"x":686,"y":882},{"c":7,"x":692,"y":895},{"c":7,"x":698,"y":900},{"c":7,"x":704,"y":913},{"c":7,"x":710,"y":918},{"c":7,"x":716,"y":931},{"c":7,"x":722,"y":936},{"c":7,"x":728,"y":949},{"c":7,"x":734,"y":954},{"c":7,"x":740,"y":967},{"c":7,"x":746,"y":972},{"c":7,"x":752,"y":985},{"c":7,"x":758,"y":990},{"c":7,"x":764,"y":1003},{"c":7,"x":770,"y":1008},{"c":7,"x":776,"y":1021},{"c":7,"x":782,"y":1023},{"c":7,"x":850,"y":1023},
{"c":8,"x":57,"y":112},{"c":8,"x":63,"y":128},{"c":8,"x":69,"y":134},{"c":8,"x":75,"y":150},{"c":8,"x":81,"y":156},{"c":8,"x":87,"y":166},{"c":8,"x":93,"y":170},{"c":8,"x":99,"y":180},{"c":8,"x":105,"y":184},{"c":8,"x":111,"y":194},{"c":8,"x":117,"y":198},{"c":8,"x":123,"y":208},{"c":8,"x":129,"y":212},{"c":8,"x":135,"y":222},{"c":8,"x":141,"y":226},{"c":8,"x":147,"y":236},{"c":8,"x":153,"y":240},{"c":8,"x":159,"y":250},{"c":8,"x":165,"y":254},{"c":8,"x":171,"y":264},{"c":8,"x":177,"y":268},{"c":8,"x":183,"y":278},{"c":8,"x":189,"y":282},{"c":8,"x":195,"y":292},{"c":8,"x":201,"y":296},{"c":8,"x":207,"y":306},{"c":8,"x":213,"y":310},{"c":8,"x":219,"y":320},{"c":8,"x":225,"y":324},{"c":8,"x":231,"y":334},{"c":8,"x":237,"y":338},{"c":8,"x":243,"y":348},{"c":8,"x":249,"y":352},{"c":8,"x":255,"y":362},{"c":8,"x":261,"y":366},{"c":8,"x":267,"y":376},{"c":8,"x":273,"y":380},{"c":8,"x":279,"y":390},{"c":8,"x":285,"y":394},{"c":8,"x":291,"y":404},{"c":8,"x":297,"y":408},{"c":8,"x":303,"y":418},{"c":8,"x":309,"y":422},{"c":8,"x":315,"y":432},{"c":8,"x":321,"y":436},{"c":8,"x":327,"y":446},{"c":8,"x":333,"y":450},{"c":8,"x":339,"y":460},{"c":8,"x":345,"y":464},{"c":8,"x":351,"y":474},{"c":8,"x":357,"y":478},{"c":8,"x":363,"y":488},{"c":8,"x":369,"y":492},{"c":8,"x":375,"y":502},{"c":8,"x":381,"y":506},{"c":8,"x":387,"y":516},{"c":8,"x":393,"y":520},{"c":8,"x":399,"y":530},{"c":8,"x":405,"y":534},{"c":8,"x":411,"y":544},{"c":8,"x":417,"y":548},{"c":8,"x":423,"y":558},{"c":8,"x":429,"y":562},{"c":8,"x":435,"y":572},{"c":8,"x":441,"y":576},{"c":8,"x":447,"y":586},{"c":8,"x":453,"y":590},{"c":8,"x":459,"y":600},{"c":8,"x":465,"y":604},{"c":8,"x":471,"y":614},{"c":8,"x":477,"y":618},{"c":8,"x":483,"y":628},{"c":8,"x":489,"y":632},{"c":8,"x":495,"y":642},{"c":8,"x":501,"y":646},{"c":8,"x":507,"y":656},{"c":8,"x":513,"y":660},{"c":8,"x":519,"y":670},{"c":8,"x":525,"y":674},{"c":8,"x":531,"y":684},{"c":8,"x":537,"y":688},{"c":8,"x":543,"y":698},{"c":8,"x":549,"y":702},{"c":8,"x":555,"y":712},{"c":8,"x":561,"y":716},{"c":8,"x":567,"y":726},{"c":8,"x":573,"y":730},{"c":8,"x":579,"y":740},{"c":8,"x":585,"y":744},{"c":8,"x":591,"y":754},{"c":8,"x":597,"y":758},{"c":8,"x":603,"y":768},{"c":8,"x":609,"y":772},{"c":8,"x":615,"y":782},{"c":8,"x":621,"y":786},{"c":8,"x":627,"y":796},{"c":8,"x":633,"y":800},{"c":8,"x":639,"y":813},{"c":8,"x":645,"y":817},{"c":8,"x":651,"y":830},{"c":8,"x":657,"y":834},{"c":8,"x":663,"y":847},{"c":8,"x":669,"y":851},{"c":8,"x":675,"y":864},{"c":8,"x":681,"y":868},{"c":8,"x":687,"y":881},{"c":8,"x":693,"y":885},{"c":8,"x":699,"y":898},{"c":8,"x":705,"y":902},{"c":8,"x":711,"y":915},{"c":8,"x":717,"y":919},{"c":8,"x":723,"y":932},{"c":8,"x":729,"y":936},{"c":8,"x":735,"y":949},{"c":8,"x":741,"y":953},{"c":8,"x":747,"y":966},{"c":8,"x":753,"y":970},{"c":8,"x":759,"y":983},{"c":8,"x":765,"y":987},{"c":8,"x":771,"y":1000},{"c":8,"x":777,"y":1004},{"c":8,"x":783,"y":1017},{"c":8,"x":789,"y":1021},{"c":8,"x":795,"y":1023},{"c":8,"x":850,"y":1023},
{"c":9,"x":59,"y":108},{"c":9,"x":65,"y":124},{"c":9,"x":71,"y":130},{"c":9,"x":77,"y":146},{"c":9,"x":83,"y":152},{"c":9,"x":89,"y":162},{"c":9,"x":95,"y":166},{"c":9,"x":101,"y":176},{"c":9,"x":107,"y":180},{"c":9,"x":113,"y":190},{"c":9,"x":119,"y":194},{"c":9,"x":125,"y":204},{"c":9,"x":131,"y":208},{"c":9,"x":137,"y":218},{"c":9,"x":143,"y":222},{"c":9,"x":149,"y":232},{"c":9,"x":155,"y":236},{"c":9,"x":161,"y":246},{"c":9,"x":167,"y":250},{"c":9,"x":173,"y":260},{"c":9,"x":179,"y":264},{"c":9,"x":185,"y":274},{"c":9,"x":191,"y":278},{"c":9,"x":197,"y":288},{"c":9,"x":203,"y":292},{"c":9,"x":209,"y":302},{"c":9,"x":215,"y":306},{"c":9,"x":221,"y":316},{"c":9,"x":227,"y":320},{"c":9,"x":233,"y":330},{"c":9,"x":239,"y":334},{"c":9,"x":245,"y":344},{"c":9,"x":251,"y":348},{"c":9,"x":257,"y":358},{"c":9,"x":263,"y":362},{"c":9,"x":269,"y":372},{"c":9,"x":275,"y":376},{"c":9,"x":281,"y":386},{"c":9,"x":287,"y":390},{"c":9,"x":293,"y":400},{"c":9,"x":299,"y":404},{"c":9,"x":305,"y":414},{"c":9,"x":311,"y":418},{"c":9,"x":317,"y":428},{"c":9,"x":323,"y":432},{"c":9,"x":329,"y":442},{"c":9,"x":335,"y":446},{"c":9,"x":341,"y":456},{"c":9,"x":347,"y":460},{"c":9,"x":353,"y":470},{"c":9,"x":359,"y":474},{"c":9,"x":365,"y":484},{"c":9,"x":371,"y":488},{"c":9,"x":377,"y":498},{"c":9,"x":383,"y":502},{"c":9,"x":389,"y":512},{"c":9,"x":395,"y":516},{"c":9,"x":401,"y":526},{"c":9,"x":407,"y":530},{"c":9,"x":413,"y":540},{"c":9,"x":419,"y":544},{"c":9,"x":425,"y":554},{"c":9,"x":431,"y":558},{"c":9,"x":437,"y":568},{"c":9,"x":443,"y":572},{"c":9,"x":449,"y":582},{"c":9,"x":455,"y":586},{"c":9,"x":461,"y":596},{"c":9,"x":467,"y":600},{"c":9,"x":473,"y":610},{"c":9,"x":479,"y":614},{"c":9,"x":485,"y":624},{"c":9,"x":491,"y":628},{"c":9,"x":497,"y":638},{"c":9,"x":503,"y":642},{"c":9,"x":509,"y":652},{"c":9,"x":515,"y":656},{"c":9,"x":521,"y":666},{"c":9,"x":527,"y":670},{"c":9,"x":533,"y":680},{"c":9,"x":539,"y":684},{"c":9,"x":545,"y":694},{"c":9,"x":551,"y":698},{"c":9,"x":557,"y":708},{"c":9,"x":563,"y":712},{"c":9,"x":569,"y":722},{"c":9,"x":575,"y":726},{"c":9,"x":581,"y":736},{"c":9,"x":587,"y":740},{"c":9,"x":593,"y":750},{"c":9,"x":599,"y":754},{"c":9,"x":605,"y":764},{"c":9,"x":611,"y":768},{"c":9,"x":617,"y":778},{"c":9,"x":623,"y":782},{"c":9,"x":629,"y":792},{"c":9,"x":635,"y":796},{"c":9,"x":641,"y":806},{"c":9,"x":647,"y":810},{"c":9,"x":653,"y":823},{"c":9,"x":659,"y":828},{"c":9,"x":665,"y":841},{"c":9,"x":671,"y":846},{"c":9,"x":677,"y":859},{"c":9,"x":683,"y":864},{"c":9,"x":689,"y":877},{"c":9,"x":695,"y":882},{"c":9,"x":701,"y":895},{"c":9,"x":707,"y":900},{"c":9,"x":713,"y":913},{"c":9,"x":719,"y":918},{"c":9,"x":725,"y":931},{"c":9,"x":731,"y":936},{"c":9,"x":737,"y":949},{"c":9,"x":743,"y":954},{"c":9,"x":749,"y":967},{"c":9,"x":755,"y":972},{"c":9,"x":761,"y":985},{"c":9,"x":767,"y":990},{"c":9,"x":773,"y":1003},{"c":9,"x":779,"y":1008},{"c":9,"x":785,"y":1021},{"c":9,"x":791,"y":1023},{"c":9,"x":850,"y":1023},
{"c":10,"x":64,"y":110},{"c":10,"x":70,"y":126},{"c":10,"x":76,"y":132},{"c":10,"x":82,"y":148},{"c":10,"x":88,"y":154},{"c":10,"x":94,"y":164},{"c":10,"x":100,"y":168},{"c":10,"x":106,"y":178},{"c":10,"x":112,"y":182},{"c":10,"x":118,"y":192},{"c":10,"x":124,"y":196},{"c":10,"x":130,"y":206},{"c":10,"x":136,"y":210},{"c":10,"x":142,"y":220},{"c":10,"x":148,"y":224},{"c":10,"x":154,"y":234},{"c":10,"x":160,"y":238},{"c":10,"x":166,"y":248},{"c":10,"x":172,"y":252},{"c":10,"x":178,"y":262},{"c":10,"x":184,"y":266},{"c":10,"x":190,"y":276},{"c":10,"x":196,"y":280},{"c":10,"x":202,"y":290},{"c":10,"x":208,"y":294},{"c":10,"x":214,"y":304},{"c":10,"x":220,"y":308},{"c":10,"x":226,"y":318},{"c":10,"x":232,"y":322},{"c":10,"x":238,"y":332},{"c":10,"x":244,"y":336},{"c":10,"x":250,"y":346},{"c":10,"x":256,"y":350},{"c":10,"x":262,"y":360},{"c":10,"x":268,"y":364},{"c":10,"x":274,"y":374},{"c":10,"x":280,"y":378},{"c":10,"x":286,"y":388},{"c":10,"x":292,"y":392},{"c":10,"x":298,"y":402},{"c":10,"x":304,"y":406},{"c":10,"x":310,"y":416},{"c":10,"x":316,"y":420},{"c":10,"x":322,"y":430},{"c":10,"x":328,"y":434},{"c":10,"x":334,"y":444},{"c":10,"x":340,"y":448},{"c":10,"x":346,"y":458},{"c":10,"x":352,"y":462},{"c":10,"x":358,"y":472},{"c":10,"x":364,"y":476},{"c":10,"x":370,"y":486},{"c":10,"x":376,"y":490},{"c":10,"x":382,"y":500},{"c":10,"x":388,"y":504},{"c":10,"x":394,"y":514},{"c":10,"x":400,"y":518},{"c":10,"x":406,"y":528},{"c":10,"x":412,"y":532},{"c":10,"x":418,"y":542},{"c":10,"x":424,"y":546},{"c":10,"x":430,"y":556},{"c":10,"x":436,"y":560},{"c":10,"x":442,"y":570},{"c":10,"x":448,"y":574},{"c":10,"x":454,"y":584},{"c":10,"x":460,"y":588},{"c":10,"x":466,"y":598},{"c":10,"x":472,"y":602},{"c":10,"x":478,"y":612},{"c":10,"x":484,"y":616},{"c":10,"x":490,"y":626},{"c":10,"x":496,"y":630},{"c":10,"x":502,"y":640},{"c":10,"x":508,"y":644},{"c":10,"x":514,"y":654},{"c":10,"x":520,"y":658},{"c":10,"x":526,"y":668},{"c":10,"x":532,"y":672},{"c":10,"x":538,"y":682},{"c":10,"x":544,"y":686},{"c":10,"x":550,"y":696},{"c":10,"x":556,"y":700},{"c":10,"x":562,"y":710},{"c":10,"x":568,"y":714},{"c":10,"x":574,"y":724},{"c":10,"x":580,"y":728},{"c":10,"x":586,"y":738},{"c":10,"x":592,"y":742},{"c":10,"x":598,"y":752},{"c":10,"x":604,"y":756},{"c":10,"x":610,"y":766},{"c":10,"x":616,"y":770},{"c":10,"x":622,"y":780},{"c":10,"x":628,"y":784},{"c":10,"x":634,"y":794},{"c":10,"x":640,"y":798},{"c":10,"x":646,"y":808},{"c":10,"x":652,"y":812},{"c":10,"x":658,"y":825},{"c":10,"x":664,"y":829},{"c":10,"x":670,"y":842},{"c":10,"x":676,"y":846},{"c":10,"x":682,"y":859},{"c":10,"x":688,"y":863},{"c":10,"x":694,"y":876},{"c":10,"x":700,"y":880},{"c":10,"x":706,"y":893},{"c":10,"x":712,"y":897},{"c":10,"x":718,"y":910},{"c":10,"x":724,"y":914},{"c":10,"x":730,"y":927},{"c":10,"x":736,"y":931},{"c":10,"x":742,"y":944},{"c":10,"x":748,"y":948},{"c":10,"x":754,"y":961},{"c":10,"x":760,"y":965},{"c":10,"x":766,"y":978},{"c":10,"x":772,"y":982},{"c":10,"x":778,"y":995},{"c":10,"x":784,"y":999},{"c":10,"x":790,"y":1012},{"c":10,"x":796,"y":1016},{"c":10,"x":802,"y":1023},{"c":10,"x":850,"y":1023},
{"c":11,"x":59,"y":125},{"c":11,"x":65,"y":141},{"c":11,"x":71,"y":147},{"c":11,"x":77,"y":163},{"c":11,"x":83,"y":169},{"c":11,"x":89,"y":179},{"c":11,"x":95,"y":182},{"c":11,"x":101,"y":192},{"c":11,"x":107,"y":195},{"c":11,"x":113,"y":205},{"c":11,"x":119,"y":208},{"c":11,"x":125,"y":218},{"c":11,"x":131,"y":221},{"c":11,"x":137,"y":231},{"c":11,"x":143,"y":234},{"c":11,"x":149,"y":244},{"c":11,"x":155,"y":247},{"c":11,"x":161,"y":257},{"c":11,"x":167,"y":260},{"c":11,"x":173,"y":270},{"c":11,"x":179,"y":273},{"c":11,"x":185,"y":283},{"c":11,"x":191,"y":286},{"c":11,"x":197,"y":296},{"c":11,"x":203,"y":299},{"c":11,"x":209,"y":309},{"c":11,"x":215,"y":312},{"c":11,"x":221,"y":322},{"c":11,"x":227,"y":325},{"c":11,"x":233,"y":335},{"c":11,"x":239,"y":338},{"c":11,"x":245,"y":348},{"c":11,"x":251,"y":351},{"c":11,"x":257,"y":361},{"c":11,"x":263,"y":364},{"c":11,"x":269,"y":374},{"c":11,"x":275,"y":377},{"c":11,"x":281,"y":387},{"c":11,"x":287,"y":390},{"c":11,"x":293,"y":400},{"c":11,"x":299,"y":403},{"c":11,"x":305,"y":413},{"c":11,"x":311,"y":416},{"c":11,"x":317,"y":426},{"c":11,"x":323,"y":429},{"c":11,"x":329,"y":439},{"c":11,"x":335,"y":442},{"c":11,"x":341,"y":452},{"c":11,"x":347,"y":455},{"c":11,"x":353,"y":465},{"c":11,"x":359,"y":468},{"c":11,"x":365,"y":478},{"c":11,"x":371,"y":481},{"c":11,"x":377,"y":491},{"c":11,"x":383,"y":494},{"c":11,"x":389,"y":504},{"c":11,"x":395,"y":507},{"c":11,"x":401,"y":517},{"c":11,"x":407,"y":520},{"c":11,"x":413,"y":530},{"c":11,"x":419,"y":533},{"c":11,"x":425,"y":543},{"c":11,"x":431,"y":546},{"c":11,"x":437,"y":556},{"c":11,"x":443,"y":559},{"c":11,"x":449,"y":569},{"c":11,"x":455,"y":572},{"c":11,"x":461,"y":582},{"c":11,"x":467,"y":585},{"c":11,"x":473,"y":595},{"c":11,"x":479,"y":598},{"c":11,"x":485,"y":608},{"c":11,"x":491,"y":611},{"c":11,"x":497,"y":621},{"c":11,"x":503,"y":624},{"c":11,"x":509,"y":634},{"c":11,"x":515,"y":637},{"c":11,"x":521,"y":647},{"c":11,"x":527,"y":650},{"c":11,"x":533,"y":660},{"c":11,"x":539,"y":663},{"c":11,"x":545,"y":673},{"c":11,"x":551,"y":676},{"c":11,"x":557,"y":686},{"c":11,"x":563,"y":689},{"c":11,"x":569,"y":699},{"c":11,"x":575,"y":702},{"c":11,"x":581,"y":713},{"c":11,"x":587,"y":717},{"c":11,"x":593,"y":728},{"c":11,"x":599,"y":732},{"c":11,"x":605,"y":743},{"c":11,"x":611,"y":747},{"c":11,"x":617,"y":758},{"c":11,"x":623,"y":762},{"c":11,"x":629,"y":773},{"c":11,"x":635,"y":777},{"c":11,"x":641,"y":788},{"c":11,"x":647,"y":792},{"c":11,"x":653,"y":803},{"c":11,"x":659,"y":807},{"c":11,"x":665,"y":818},{"c":11,"x":671,"y":822},{"c":11,"x":677,"y":833},{"c":11,"x":683,"y":837},{"c":11,"x":689,"y":848},{"c":11,"x":695,"y":852},{"c":11,"x":701,"y":867},{"c":11,"x":707,"y":872},{"c":11,"x":713,"y":887},{"c":11,"x":719,"y":892},{"c":11,"x":725,"y":907},{"c":11,"x":731,"y":912},{"c":11,"x":737,"y":927},{"c":11,"x":743,"y":932},{"c":11,"x":749,"y":947},{"c":11,"x":755,"y":952},{"c":11,"x":761,"y":967},{"c":11,"x":767,"y":972},{"c":11,"x":773,"y":987},{"c":11,"x":779,"y":992},{"c":11,"x":785,"y":1007},{"c":11,"x":791,"y":1012},{"c":11,"x":797,"y":1023},{"c":11,"x":850,"y":1023},
{"c":12,"x":68,"y":104},{"c":12,"x":74,"y":120},{"c":12,"x":80,"y":126},{"c":12,"x":86,"y":142},{"c":12,"x":92,"y":148},{"c":12,"x":98,"y":158},{"c":12,"x":104,"y":162},{"c":12,"x":110,"y":172},{"c":12,"x":116,"y":176},{"c":12,"x":122,"y":186},{"c":12,"x":128,"y":190},{"c":12,"x":134,"y":200},{"c":12,"x":140,"y":204},{"c":12,"x":146,"y":214},{"c":12,"x":152,"y":218},{"c":12,"x":158,"y":228},{"c":12,"x":164,"y":232},{"c":12,"x":170,"y":242},{"c":12,"x":176,"y":246},{"c":12,"x":182,"y":256},{"c":12,"x":188,"y":260},{"c":12,"x":194,"y":270},{"c":12,"x":200,"y":274},{"c":12,"x":206,"y":284},{"c":12,"x":212,"y":288},{"c":12,"x":218,"y":298},{"c":12,"x":224,"y":302},{"c":12,"x":230,"y":312},{"c":12,"x":236,"y":316},{"c":12,"x":242,"y":326},{"c":12,"x":248,"y":330},{"c":12,"x":254,"y":340},{"c":12,"x":260,"y":344},{"c":12,"x":266,"y":354},{"c":12,"x":272,"y":358},{"c":12,"x":278,"y":368},{"c":12,"x":284,"y":372},{"c":12,"x":290,"y":382},{"c":12,"x":296,"y":386},{"c":12,"x":302,"y":396},{"c":12,"x":308,"y":400},{"c":12,"x":314,"y":410},{"c":12,"x":320,"y":414},{"c":12,"x":326,"y":424},{"c":12,"x":332,"y":428},{"c":12,"x":338,"y":438},{"c":12,"x":344,"y":442},{"c":12,"x":350,"y":452},{"c":12,"x":356,"y":456},{"c":12,"x":362,"y":466},{"c":12,"x":368,"y":470},{"c":12,"x":374,"y":480},{"c":12,"x":380,"y":484},{"c":12,"x":386,"y":494},{"c":12,"x":392,"y":498},{"c":12,"x":398,"y":508},{"c":12,"x":404,"y":512},{"c":12,"x":410,"y":522},{"c":12,"x":416,"y":526},{"c":12,"x":422,"y":536},{"c":12,"x":428,"y":540},{"c":12,"x":434,"y":550},{"c":12,"x":440,"y":554},{"c":12,"x":446,"y":564},{"c":12,"x":452,"y":568},{"c":12,"x":458,"y":578},{"c":12,"x":464,"y":582},{"c":12,"x":470,"y":592},{"c":12,"x":476,"y":596},{"c":12,"x":482,"y":606},{"c":12,"x":488,"y":610},{"c":12,"x":494,"y":620},{"c":12,"x":500,"y":624},{"c":12,"x":506,"y":634},{"c":12,"x":512,"y":638},{"c":12,"x":518,"y":648},{"c":12,"x":524,"y":652},{"c":12,"x":530,"y":662},{"c":12,"x":536,"y":666},{"c":12,"x":542,"y":676},{"c":12,"x":548,"y":680},{"c":12,"x":554,"y":690},{"c":12,"x":560,"y":694},{"c":12,"x":566,"y":704},{"c":12,"x":572,"y":708},{"c":12,"x":578,"y":718},{"c":12,"x":584,"y":722},{"c":12,"x":590,"y":732},{"c":12,"x":596,"y":736},{"c":12,"x":602,"y":746},{"c":12,"x":608,"y":750},{"c":12,"x":614,"y":760},{"c":12,"x":620,"y":764},{"c":12,"x":626,"y":774},{"c":12,"x":632,"y":778},{"c":12,"x":638,"y":788},{"c":12,"x":644,"y":792},{"c":12,"x":650,"y":802},{"c":12,"x":656,"y":806},{"c":12,"x":662,"y":819},{"c":12,"x":668,"y":823},{"c":12,"x":674,"y":836},{"c":12,"x":680,"y":840},{"c":12,"x":686,"y":853},{"c":12,"x":692,"y":857},{"c":12,"x":698,"y":870},{"c":12,"x":704,"y":874},{"c":12,"x":710,"y":887},{"c":12,"x":716,"y":891},{"c":12,"x":722,"y":904},{"c":12,"x":728,"y":908},{"c":12,"x":734,"y":921},{"c":12,"x":740,"y":925},{"c":12,"x":746,"y":938},{"c":12,"x":752,"y":942},{"c":12,"x":758,"y":955},{"c":12,"x":764,"y":959},{"c":12,"x":770,"y":972},{"c":12,"x":776,"y":976},{"c":12,"x":782,"y":989},{"c":12,"x":788,"y":993},{"c":12,"x":794,"y":1006},{"c":12,"x":800,"y":1010},{"c":12,"x":806,"y":1023},{"c":12,"x":850,"y":1023},
{"c":13,"x":63,"y":120},{"c":13,"x":69,"y":136},{"c":13,"x":75,"y":142},{"c":13,"x":81,"y":158},{"c":13,"x":87,"y":164},{"c":13,"x":93,"y":174},{"c":13,"x":99,"y":177},{"c":13,"x":105,"y":187},{"c":13,"x":111,"y":190},{"c":13,"x":117,"y":200},{"c":13,"x":123,"y":203},{"c":13,"x":129,"y":213},{"c":13,"x":135,"y":216},{"c":13,"x":141,"y":226},{"c":13,"x":147,"y":229},{"c":13,"x":153,"y":239},{"c":13,"x":159,"y":242},{"c":13,"x":165,"y":252},{"c":13,"x":171,"y":255},{"c":13,"x":177,"y":265},{"c":13,"x":183,"y":268},{"c":13,"x":189,"y":278},{"c":13,"x":195,"y":281},{"c":13,"x":201,"y":291},{"c":13,"x":207,"y":294},{"c":13,"x":213,"y":304},{"c":13,"x":219,"y":307},{"c":13,"x":225,"y":317},{"c":13,"x":231,"y":320},{"c":13,"x":237,"y":330},{"c":13,"x":243,"y":333},{"c":13,"x":249,"y":343},{"c":13,"x":255,"y":346},{"c":13,"x":261,"y":356},{"c":13,"x":267,"y":359},{"c":13,"x":273,"y":369},{"c":13,"x":279,"y":372},{"c":13,"x":285,"y":382},{"c":13,"x":291,"y":385},{"c":13,"x":297,"y":395},{"c":13,"x":303,"y":398},{"c":13,"x":309,"y":408},{"c":13,"x":315,"y":411},{"c":13,"x":321,"y":421},{"c":13,"x":327,"y":424},{"c":13,"x":333,"y":434},{"c":13,"x":339,"y":437},{"c":13,"x":345,"y":447},{"c":13,"x":351,"y":450},{"c":13,"x":357,"y":460},{"c":13,"x":363,"y":463},{"c":13,"x":369,"y":473},{"c":13,"x":375,"y":476},{"c":13,"x":381,"y":486},{"c":13,"x":387,"y":489},{"c":13,"x":393,"y":499},{"c":13,"x":399,"y":502},{"c":13,"x":405,"y":512},{"c":13,"x":411,"y":515},{"c":13,"x":417,"y":525},{"c":13,"x":423,"y":528},{"c":13,"x":429,"y":538},{"c":13,"x":435,"y":541},{"c":13,"x":441,"y":551},{"c":13,"x":447,"y":554},{"c":13,"x":453,"y":564},{"c":13,"x":459,"y":567},{"c":13,"x":465,"y":577},{"c":13,"x":471,"y":580},{"c":13,"x":477,"y":590},{"c":13,"x":483,"y":593},{"c":13,"x":489,"y":603},{"c":13,"x":495,"y":606},{"c":13,"x":501,"y":616},{"c":13,"x":507,"y":619},{"c":13,"x":513,"y":629},{"c":13,"x":519,"y":632},{"c":13,"x":525,"y":642},{"c":13,"x":531,"y":645},{"c":13,"x":537,"y":655},{"c":13,"x":543,"y":658},{"c":13,"x":549,"y":668},{"c":13,"x":555,"y":671},{"c":13,"x":561,"y":681},{"c":13,"x":567,"y":684},{"c":13,"x":573,"y":694},{"c":13,"x":579,"y":697},{"c":13,"x":585,"y":707},{"c":13,"x":591,"y":710},{"c":13,"x":597,"y":721},{"c":13,"x":603,"y":725},{"c":13,"x":609,"y":736},{"c":13,"x":615,"y":740},{"c":13,"x":621,"y":751},{"c":13,"x":627,"y":755},{"c":13,"x":633,"y":766},{"c":13,"x":639,"y":770},{"c":13,"x":645,"y":781},{"c":13,"x":651,"y":785},{"c":13,"x":657,"y":796},{"c":13,"x":663,"y":800},{"c":13,"x":669,"y":811},{"c":13,"x":675,"y":815},{"c":13,"x":681,"y":826},{"c":13,"x":687,"y":830},{"c":13,"x":693,"y":841},{"c":13,"x":699,"y":845},{"c":13,"x":705,"y":856},{"c":13,"x":711,"y":860},{"c":13,"x":717,"y":874},{"c":13,"x":723,"y":879},{"c":13,"x":729,"y":893},{"c":13,"x":735,"y":898},{"c":13,"x":741,"y":912},{"c":13,"x":747,"y":917},{"c":13,"x":753,"y":931},{"c":13,"x":759,"y":936},{"c":13,"x":765,"y":950},{"c":13,"x":771,"y":955},{"c":13,"x":777,"y":969},{"c":13,"x":783,"y":974},{"c":13,"x":789,"y":988},{"c":13,"x":795,"y":993},{"c":13,"x":801,"y":1007},{"c":13,"x":807,"y":1012},{"c":13,"x":813,"y":1023},{"c":13,"x":850,"y":1023},
{"c":14,"x":74,"y":100},{"c":14,"x":80,"y":116},{"c":14,"x":86,"y":122},{"c":14,"x":92,"y":138},{"c":14,"x":98,"y":144},{"c":14,"x":104,"y":154},{"c":14,"x":110,"y":158},{"c":14,"x":116,"y":168},{"c":14,"x":122,"y":172},{"c":14,"x":128,"y":182},{"c":14,"x":134,"y":186},{"c":14,"x":140,"y":196},{"c":14,"x":146,"y":200},{"c":14,"x":152,"y":210},{"c":14,"x":158,"y":214},{"c":14,"x":164,"y":224},{"c":14,"x":170,"y":228},{"c":14,"x":176,"y":238},{"c":14,"x":182,"y":242},{"c":14,"x":188,"y":252},{"c":14,"x":194,"y":256},{"c":14,"x":200,"y":266},{"c":14,"x":206,"y":270},{"c":14,"x":212,"y":280},{"c":14,"x":218,"y":284},{"c":14,"x":224,"y":294},{"c":14,"x":230,"y":298},{"c":14,"x":236,"y":308},{"c":14,"x":242,"y":312},{"c":14,"x":248,"y":322},{"c":14,"x":254,"y":326},{"c":14,"x":260,"y":336},{"c":14,"x":266,"y":340},{"c":14,"x":272,"y":350},{"c":14,"x":278,"y":354},{"c":14,"x":284,"y":364},{"c":14,"x":290,"y":368},{"c":14,"x":296,"y":378},{"c":14,"x":302,"y":382},{"c":14,"x":308,"y":392},{"c":14,"x":314,"y":396},{"c":14,"x":320,"y":406},{"c":14,"x":326,"y":410},{"c":14,"x":332,"y":420},{"c":14,"x":338,"y":424},{"c":14,"x":344,"y":434},{"c":14,"x":350,"y":438},{"c":14,"x":356,"y":448},{"c":14,"x":362,"y":452},{"c":14,"x":368,"y":462},{"c":14,"x":374,"y":466},{"c":14,"x":380,"y":476},{"c":14,"x":386,"y":480},{"c":14,"x":392,"y":490},{"c":14,"x":398,"y":494},{"c":14,"x":404,"y":504},{"c":14,"x":410,"y":508},{"c":14,"x":416,"y":518},{"c":14,"x":422,"y":522},{"c":14,"x":428,"y":532},{"c":14,"x":434,"y":536},{"c":14,"x":440,"y":546},{"c":14,"x":446,"y":550},{"c":14,"x":452,"y":560},{"c":14,"x":458,"y":564},{"c":14,"x":464,"y":574},{"c":14,"x":470,"y":578},{"c":14,"x":476,"y":588},{"c":14,"x":482,"y":592},{"c":14,"x":488,"y":602},{"c":14,"x":494,"y":606},{"c":14,"x":500,"y":616},{"c":14,"x":506,"y":620},{"c":14,"x":512,"y":630},{"c":14,"x":518,"y":634},{"c":14,"x":524,"y":644},{"c":14,"x":530,"y":648},{"c":14,"x":536,"y":658},{"c":14,"x":542,"y":662},{"c":14,"x":548,"y":672},{"c":14,"x":554,"y":676},{"c":14,"x":560,"y":686},{"c":14,"x":566,"y":690},{"c":14,"x":572,"y":700},{"c":14,"x":578,"y":704},{"c":14,"x":584,"y":714},{"c":14,"x":590,"y":718},{"c":14,"x":596,"y":728},{"c":14,"x":602,"y":732},{"c":14,"x":608,"y":742},{"c":14,"x":614,"y":746},{"c":14,"x":620,"y":756},{"c":14,"x":626,"y":760},{"c":14,"x":632,"y":770},{"c":14,"x":638,"y":774},{"c":14,"x":644,"y":784},{"c":14,"x":650,"y":788},{"c":14,"x":656,"y":798},{"c":14,"x":662,"y":802},{"c":14,"x":668,"y":814},{"c":14,"x":674,"y":818},{"c":14,"x":680,"y":830},{"c":14,"x":686,"y":834},{"c":14,"x":692,"y":846},{"c":14,"x":698,"y":850},{"c":14,"x":704,"y":862},{"c":14,"x":710,"y":866},{"c":14,"x":716,"y":878},{"c":14,"x":722,"y":882},{"c":14,"x":728,"y":894},{"c":14,"x":734,"y":898},{"c":14,"x":740,"y":910},{"c":14,"x":746,"y":914},{"c":14,"x":752,"y":926},{"c":14,"x":758,"y":930},{"c":14,"x":764,"y":942},{"c":14,"x":770,"y":946},{"c":14,"x":776,"y":958},{"c":14,"x":782,"y":962},{"c":14,"x":788,"y":974},{"c":14,"x":794,"y":978},{"c":14,"x":800,"y":990},{"c":14,"x":806,"y":994},{"c":14,"x":812,"y":1006},{"c":14,"x":818,"y":1010},{"c":14,"x":824,"y":1022},{"c":14,"x":830,"y":1023},{"c":14,"x":850,"y":1023},
{"c":15,"x":65,"y":112},{"c":15,"x":71,"y":128},{"c":15,"x":77,"y":134},{"c":15,"x":83,"y":150},{"c":15,"x":89,"y":156},{"c":15,"x":95,"y":166},{"c":15,"x":101,"y":169},{"c":15,"x":107,"y":179},{"c":15,"x":113,"y":182},{"c":15,"x":119,"y":192},{"c":15,"x":125,"y":195},{"c":15,"x":131,"y":205},{"c":15,"x":137,"y":208},{"c":15,"x":143,"y":218},{"c":15,"x":149,"y":221},{"c":15,"x":155,"y":231},{"c":15,"x":161,"y":234},{"c":15,"x":167,"y":244},{"c":15,"x":173,"y":247},{"c":15,"x":179,"y":257},{"c":15,"x":185,"y":260},{"c":15,"x":191,"y":270},{"c":15,"x":197,"y":273},{"c":15,"x":203,"y":283},{"c":15,"x":209,"y":286},{"c":15,"x":215,"y":296},{"c":15,"x":221,"y":299},{"c":15,"x":227,"y":309},{"c":15,"x":233,"y":312},{"c":15,"x":239,"y":322},{"c":15,"x":245,"y":325},{"c":15,"x":251,"y":335},{"c":15,"x":257,"y":338},{"c":15,"x":263,"y":348},{"c":15,"x":269,"y":351},{"c":15,"x":275,"y":361},{"c":15,"x":281,"y":364},{"c":15,"x":287,"y":374},{"c":15,"x":293,"y":377},{"c":15,"x":299,"y":387},{"c":15,"x":305,"y":390},{"c":15,"x":311,"y":400},{"c":15,"x":317,"y":403},{"c":15,"x":323,"y":413},{"c":15,"x":329,"y":416},{"c":15,"x":335,"y":426},{"c":15,"x":341,"y":429},{"c":15,"x":347,"y":439},{"c":15,"x":353,"y":442},{"c":15,"x":359,"y":452},{"c":15,"x":365,"y":455},{"c":15,"x":371,"y":465},{"c":15,"x":377,"y":468},{"c":15,"x":383,"y":478},{"c":15,"x":389,"y":481},{"c":15,"x":395,"y":491},{"c":15,"x":401,"y":494},{"c":15,"x":407,"y":504},{"c":15,"x":413,"y":507},{"c":15,"x":419,"y":517},{"c":15,"x":425,"y":520},{"c":15,"x":431,"y":530},{"c":15,"x":437,"y":533},{"c":15,"x":443,"y":543},{"c":15,"x":449,"y":546},{"c":15,"x":455,"y":556},{"c":15,"x":461,"y":559},{"c":15,"x":467,"y":569},{"c":15,"x":473,"y":572},{"c":15,"x":479,"y":582},{"c":15,"x":485,"y":585},{"c":15,"x":491,"y":595},{"c":15,"x":497,"y":598},{"c":15,"x":503,"y":608},{"c":15,"x":509,"y":611},{"c":15,"x":515,"y":621},{"c":15,"x":521,"y":624},{"c":15,"x":527,"y":634},{"c":15,"x":533,"y":637},{"c":15,"x":539,"y":647},{"c":15,"x":545,"y":650},{"c":15,"x":551,"y":660},{"c":15,"x":557,"y":663},{"c":15,"x":563,"y":673},{"c":15,"x":569,"y":676},{"c":15,"x":575,"y":686},{"c":15,"x":581,"y":689},{"c":15,"x":587,"y":699},{"c":15,"x":593,"y":702},{"c":15,"x":599,"y":713},{"c":15,"x":605,"y":717},{"c":15,"x":611,"y":728},{"c":15,"x":617,"y":732},{"c":15,"x":623,"y":743},{"c":15,"x":629,"y":747},{"c":15,"x":635,"y":758},{"c":15,"x":641,"y":762},{"c":15,"x":647,"y":773},{"c":15,"x":653,"y":777},{"c":15,"x":659,"y":788},{"c":15,"x":665,"y":792},{"c":15,"x":671,"y":803},{"c":15,"x":677,"y":807},{"c":15,"x":683,"y":818},{"c":15,"x":689,"y":822},{"c":15,"x":695,"y":833},{"c":15,"x":701,"y":837},{"c":15,"x":707,"y":848},{"c":15,"x":713,"y":852},{"c":15,"x":719,"y":865},{"c":15,"x":725,"y":869},{"c":15,"x":731,"y":882},{"c":15,"x":737,"y":886},{"c":15,"x":743,"y":899},{"c":15,"x":749,"y":903},{"c":15,"x":755,"y":916},{"c":15,"x":761,"y":920},{"c":15,"x":767,"y":933},{"c":15,"x":773,"y":937},{"c":15,"x":779,"y":950},{"c":15,"x":785,"y":954},{"c":15,"x":791,"y":967},{"c":15,"x":797,"y":971},{"c":15,"x":803,"y":984},{"c":15,"x":809,"y":988},{"c":15,"x":815,"y":1001},{"c":15,"x":821,"y":1005},{"c":15,"x":827,"y":1018},{"c":15,"x":833,"y":1022},{"c":15,"x":839,"y":1023},{"c":15,"x":850,"y":1023},
{"c":16,"x":72,"y":115},{"c":16,"x":78,"y":131},{"c":16,"x":84,"y":137},{"c":16,"x":90,"y":153},{"c":16,"x":96,"y":159},{"c":16,"x":102,"y":169},{"c":16,"x":108,"y":172},{"c":16,"x":114,"y":182},{"c":16,"x":120,"y":185},{"c":16,"x":126,"y":195},{"c":16,"x":132,"y":198},{"c":16,"x":138,"y":208},{"c":16,"x":144,"y":211},{"c":16,"x":150,"y":221},{"c":16,"x":156,"y":224},{"c":16,"x":162,"y":234},{"c":16,"x":168,"y":237},{"c":16,"x":174,"y":247},{"c":16,"x":180,"y":250},{"c":16,"x":186,"y":260},{"c":16,"x":192,"y":263},{"c":16,"x":198,"y":273},{"c":16,"x":204,"y":276},{"c":16,"x":210,"y":286},{"c":16,"x":216,"y":289},{"c":16,"x":222,"y":299},{"c":16,"x":228,"y":302},{"c":16,"x":234,"y":312},{"c":16,"x":240,"y":315},{"c":16,"x":246,"y":325},{"c":16,"x":252,"y":328},{"c":16,"x":258,"y":338},{"c":16,"x":264,"y":341},{"c":16,"x":270,"y":351},{"c":16,"x":276,"y":354},{"c":16,"x":282,"y":364},{"c":16,"x":288,"y":367},{"c":16,"x":294,"y":377},{"c":16,"x":300,"y":380},{"c":16,"x":306,"y":390},{"c":16,"x":312,"y":393},{"c":16,"x":318,"y":403},{"c":16,"x":324,"y":406},{"c":16,"x":330,"y":416},{"c":16,"x":336,"y":419},{"c":16,"x":342,"y":429},{"c":16,"x":348,"y":432},{"c":16,"x":354,"y":442},{"c":16,"x":360,"y":445},{"c":16,"x":366,"y":455},{"c":16,"x":372,"y":458},{"c":16,"x":378,"y":468},{"c":16,"x":384,"y":471},{"c":16,"x":390,"y":481},{"c":16,"x":396,"y":484},{"c":16,"x":402,"y":494},{"c":16,"x":408,"y":497},{"c":16,"x":414,"y":507},{"c":16,"x":420,"y":510},{"c":16,"x":426,"y":520},{"c":16,"x":432,"y":523},{"c":16,"x":438,"y":533},{"c":16,"x":444,"y":536},{"c":16,"x":450,"y":546},{"c":16,"x":456,"y":549},{"c":16,"x":462,"y":559},{"c":16,"x":468,"y":562},{"c":16,"x":474,"y":572},{"c":16,"x":480,"y":575},{"c":16,"x":486,"y":585},{"c":16,"x":492,"y":588},{"c":16,"x":498,"y":598},{"c":16,"x":504,"y":601},{"c":16,"x":510,"y":611},{"c":16,"x":516,"y":614},{"c":16,"x":522,"y":624},{"c":16,"x":528,"y":627},{"c":16,"x":534,"y":637},{"c":16,"x":540,"y":640},{"c":16,"x":546,"y":650},{"c":16,"x":552,"y":653},{"c":16,"x":558,"y":663},{"c":16,"x":564,"y":666},{"c":16,"x":570,"y":676},{"c":16,"x":576,"y":679},{"c":16,"x":582,"y":689},{"c":16,"x":588,"y":692},{"c":16,"x":594,"y":702},{"c":16,"x":600,"y":705},{"c":16,"x":606,"y":716},{"c":16,"x":612,"y":720},{"c":16,"x":618,"y":731},{"c":16,"x":624,"y":735},{"c":16,"x":630,"y":746},{"c":16,"x":636,"y":750},{"c":16,"x":642,"y":761},{"c":16,"x":648,"y":765},{"c":16,"x":654,"y":776},{"c":16,"x":660,"y":780},{"c":16,"x":666,"y":791},{"c":16,"x":672,"y":795},{"c":16,"x":678,"y":806},{"c":16,"x":684,"y":810},{"c":16,"x":690,"y":821},{"c":16,"x":696,"y":825},{"c":16,"x":702,"y":836},{"c":16,"x":708,"y":840},{"c":16,"x":714,"y":851},{"c":16,"x":720,"y":855},{"c":16,"x":726,"y":868},{"c":16,"x":732,"y":872},{"c":16,"x":738,"y":885},{"c":16,"x":744,"y":889},{"c":16,"x":750,"y":902},{"c":16,"x":756,"y":906},{"c":16,"x":762,"y":919},{"c":16,"x":768,"y":923},{"c":16,"x":774,"y":936},{"c":16,"x":780,"y":940},{"c":16,"x":786,"y":953},{"c":16,"x":792,"y":957},{"c":16,"x":798,"y":970},{"c":16,"x":804,"y":974},{"c":16,"x":810,"y":987},{"c":16,"x":816,"y":991},{"c":16,"x":822,"y":1004},{"c":16,"x":828,"y":1008},{"c":16,"x":834,"y":1021},{"c":16,"x":840,"y":1023},{"c":16,"x":850,"y":1023},
{"c":17,"x":75,"y":112},{"c":17,"x":81,"y":128},{"c":17,"x":87,"y":134},{"c":17,"x":93,"y":150},{"c":17,"x":99,"y":156},{"c":17,"x":105,"y":166},{"c":17,"x":111,"y":169},{"c":17,"x":117,"y":179},{"c":17,"x":123,"y":182},{"c":17,"x":129,"y":192},{"c":17,"x":135,"y":195},{"c":17,"x":141,"y":205},{"c":17,"x":147,"y":208},{"c":17,"x":153,"y":218},{"c":17,"x":159,"y":221},{"c":17,"x":165,"y":231},{"c":17,"x":171,"y":234},{"c":17,"x":177,"y":244},{"c":17,"x":183,"y":247},{"c":17,"x":189,"y":257},{"c":17,"x":195,"y":260},{"c":17,"x":201,"y":270},{"c":17,"x":207,"y":273},{"c":17,"x":213,"y":283},{"c":17,"x":219,"y":286},{"c":17,"x":225,"y":296},{"c":17,"x":231,"y":299},{"c":17,"x":237,"y":309},{"c":17,"x":243,"y":312},{"c":17,"x":249,"y":322},{"c":17,"x":255,"y":325},{"c":17,"x":261,"y":335},{"c":17,"x":267,"y":338},{"c":17,"x":273,"y":348},{"c":17,"x":279,"y":351},{"c":17,"x":285,"y":361},{"c":17,"x":291,"y":364},{"c":17,"x":297,"y":374},{"c":17,"x":303,"y":377},{"c":17,"x":309,"y":387},{"c":17,"x":315,"y":390},{"c":17,"x":321,"y":400},{"c":17,"x":327,"y":403},{"c":17,"x":333,"y":413},{"c":17,"x":339,"y":416},{"c":17,"x":345,"y":426},{"c":17,"x":351,"y":429},{"c":17,"x":357,"y":439},{"c":17,"x":363,"y":442},{"c":17,"x":369,"y":452},{"c":17,"x":375,"y":455},{"c":17,"x":381,"y":465},{"c":17,"x":387,"y":468},{"c":17,"x":393,"y":478},{"c":17,"x":399,"y":481},{"c":17,"x":405,"y":491},{"c":17,"x":411,"y":494},{"c":17,"x":417,"y":504},{"c":17,"x":423,"y":507},{"c":17,"x":429,"y":517},{"c":17,"x":435,"y":520},{"c":17,"x":441,"y":530},{"c":17,"x":447,"y":533},{"c":17,"x":453,"y":543},{"c":17,"x":459,"y":546},{"c":17,"x":465,"y":556},{"c":17,"x":471,"y":559},{"c":17,"x":477,"y":569},{"c":17,"x":483,"y":572},{"c":17,"x":489,"y":582},{"c":17,"x":495,"y":585},{"c":17,"x":501,"y":595},{"c":17,"x":507,"y":598},{"c":17,"x":513,"y":608},{"c":17,"x":519,"y":611},{"c":17,"x":525,"y":621},{"c":17,"x":531,"y":624},{"c":17,"x":537,"y":634},{"c":17,"x":543,"y":637},{"c":17,"x":549,"y":647},{"c":17,"x":555,"y":650},{"c":17,"x":561,"y":660},{"c":17,"x":567,"y":663},{"c":17,"x":573,"y":673},{"c":17,"x":579,"y":676},{"c":17,"x":585,"y":686},{"c":17,"x":591,"y":689},{"c":17,"x":597,"y":699},{"c":17,"x":603,"y":702},{"c":17,"x":609,"y":713},{"c":17,"x":615,"y":717},{"c":17,"x":621,"y":728},{"c":17,"x":627,"y":732},{"c":17,"x":633,"y":743},{"c":17,"x":639,"y":747},{"c":17,"x":645,"y":758},{"c":17,"x":651,"y":762},{"c":17,"x":657,"y":773},{"c":17,"x":663,"y":777},{"c":17,"x":669,"y":788},{"c":17,"x":675,"y":792},{"c":17,"x":681,"y":803},{"c":17,"x":687,"y":807},{"c":17,"x":693,"y":818},{"c":17,"x":699,"y":822},{"c":17,"x":705,"y":833},{"c":17,"x":711,"y":837},{"c":17,"x":717,"y":848},{"c":17,"x":723,"y":852},{"c":17,"x":729,"y":865},{"c":17,"x":735,"y":870},{"c":17,"x":741,"y":883},{"c":17,"x":747,"y":888},{"c":17,"x":753,"y":901},{"c":17,"x":759,"y":906},{"c":17,"x":765,"y":919},{"c":17,"x":771,"y":924},{"c":17,"x":777,"y":937},{"c":17,"x":783,"y":942},{"c":17,"x":789,"y":955},{"c":17,"x":795,"y":960},{"c":17,"x":801,"y":973},{"c":17,"x":807,"y":978},{"c":17,"x":813,"y":991},{"c":17,"x":819,"y":996},{"c":17,"x":825,"y":1009},{"c":17,"x":831,"y":1014},{"c":17,"x":837,"y":1023},{"c":17,"x":850,"y":1023},
{"c":18,"x":67,"y":101},{"c":18,"x":73,"y":117},{"c":18,"x":79,"y":123},{"c":18,"x":85,"y":139},{"c":18,"x":91,"y":145},{"c":18,"x":97,"y":155},{"c":18,"x":103,"y":158},{"c":18,"x":109,"y":168},{"c":18,"x":115,"y":171},{"c":18,"x":121,"y":181},{"c":18,"x":127,"y":184},{"c":18,"x":133,"y":194},{"c":18,"x":139,"y":197},{"c":18,"x":145,"y":207},{"c":18,"x":151,"y":210},{"c":18,"x":157,"y":220},{"c":18,"x":163,"y":223},{"c":18,"x":169,"y":233},{"c":18,"x":175,"y":236},{"c":18,"x":181,"y":246},{"c":18,"x":187,"y":249},{"c":18,"x":193,"y":259},{"c":18,"x":199,"y":262},{"c":18,"x":205,"y":272},{"c":18,"x":211,"y":275},{"c":18,"x":217,"y":285},{"c":18,"x":223,"y":288},{"c":18,"x":229,"y":298},{"c":18,"x":235,"y":301},{"c":18,"x":241,"y":311},{"c":18,"x":247,"y":314},{"c":18,"x":253,"y":324},{"c":18,"x":259,"y":327},{"c":18,"x":265,"y":337},{"c":18,"x":271,"y":340},{"c":18,"x":277,"y":350},{"c":18,"x":283,"y":353},{"c":18,"x":289,"y":363},{"c":18,"x":295,"y":366},{"c":18,"x":301,"y":376},{"c":18,"x":307,"y":379},{"c":18,"x":313,"y":389},{"c":18,"x":319,"y":392},{"c":18,"x":325,"y":402},{"c":18,"x":331,"y":405},{"c":18,"x":337,"y":415},{"c":18,"x":343,"y":418},{"c":18,"x":349,"y":428},{"c":18,"x":355,"y":431},{"c":18,"x":361,"y":441},{"c":18,"x":367,"y":444},{"c":18,"x":373,"y":454},{"c":18,"x":379,"y":457},{"c":18,"x":385,"y":467},{"c":18,"x":391,"y":470},{"c":18,"x":397,"y":480},{"c":18,"x":403,"y":483},{"c":18,"x":409,"y":493},{"c":18,"x":415,"y":496},{"c":18,"x":421,"y":506},{"c":18,"x":427,"y":509},{"c":18,"x":433,"y":519},{"c":18,"x":439,"y":522},{"c":18,"x":445,"y":532},{"c":18,"x":451,"y":535},{"c":18,"x":457,"y":545},{"c":18,"x":463,"y":548},{"c":18,"x":469,"y":558},{"c":18,"x":475,"y":561},{"c":18,"x":481,"y":571},{"c":18,"x":487,"y":574},{"c":18,"x":493,"y":584},{"c":18,"x":499,"y":587},{"c":18,"x":505,"y":597},{"c":18,"x":511,"y":600},{"c":18,"x":517,"y":610},{"c":18,"x":523,"y":613},{"c":18,"x":529,"y":623},{"c":18,"x":535,"y":626},{"c":18,"x":541,"y":636},{"c":18,"x":547,"y":639},{"c":18,"x":553,"y":649},{"c":18,"x":559,"y":652},{"c":18,"x":565,"y":662},{"c":18,"x":571,"y":665},{"c":18,"x":577,"y":675},{"c":18,"x":583,"y":678},{"c":18,"x":589,"y":688},{"c":18,"x":595,"y":691},{"c":18,"x":601,"y":701},{"c":18,"x":607,"y":704},{"c":18,"x":613,"y":715},{"c":18,"x":619,"y":719},{"c":18,"x":625,"y":730},{"c":18,"x":631,"y":734},{"c":18,"x":637,"y":745},{"c":18,"x":643,"y":749},{"c":18,"x":649,"y":760},{"c":18,"x":655,"y":764},{"c":18,"x":661,"y":775},{"c":18,"x":667,"y":779},{"c":18,"x":673,"y":790},{"c":18,"x":679,"y":794},{"c":18,"x":685,"y":805},{"c":18,"x":691,"y":809},{"c":18,"x":697,"y":820},{"c":18,"x":703,"y":824},{"c":18,"x":709,"y":835},{"c":18,"x":715,"y":839},{"c":18,"x":721,"y":850},{"c":18,"x":727,"y":854},{"c":18,"x":733,"y":867},{"c":18,"x":739,"y":872},{"c":18,"x":745,"y":885},{"c":18,"x":751,"y":890},{"c":18,"x":757,"y":903},{"c":18,"x":763,"y":908},{"c":18,"x":769,"y":921},{"c":18,"x":775,"y":926},{"c":18,"x":781,"y":939},{"c":18,"x":787,"y":944},{"c":18,"x":793,"y":957},{"c":18,"x":799,"y":962},{"c":18,"x":805,"y":975},{"c":18,"x":811,"y":980},{"c":18,"x":817,"y":993},{"c":18,"x":823,"y":998},{"c":18,"x":829,"y":1011},{"c":18,"x":835,"y":1016},{"c":18,"x":841,"y":1023},{"c":18,"x":850,"y":1023}
]},
"mark":{"type":"line","interpolate":"monotone","strokeWidth":3.8,"clip":true},
"encoding":{
"x":{"field":"x","type":"quantitative","scale":{"domain":[0,1100],"nice":false,"zero":false},
"axis":{"orient":"bottom","values":[0,50,100,150,200,250,300,350,400,450,500,550,600,650,700,750,800,850,900,950,1000,1050,1100],"format":"d","labelExpr":"datum.value % 100 === 0 ? datum.label : ''","tickSize":{"condition":{"test":"datum.value % 100 === 0","value":-22},"value":-12},"tickWidth":3,"tickColor":"black","domainWidth":3,"domainColor":"black","domainCap":"square","labelFont":"Liberation Sans","labelFontSize":42,"labelColor":"black","labelPadding":47,"labelFlush":false,"labelOverlap":false,"grid":false,"title":"Pulser Code","titleFont":"Liberation Sans","titleFontSize":54,"titleFontWeight":"normal","titleColor":"black","titlePadding":8}},
"y":{"field":"y","type":"quantitative","scale":{"domain":[0,1100],"nice":false,"zero":false},
"axis":{"orient":"left","values":[0,50,100,150,200,250,300,350,400,450,500,550,600,650,700,750,800,850,900,950,1000,1050,1100],"format":"d","labelExpr":"datum.value % 100 === 0 ? datum.label : ''","tickSize":{"condition":{"test":"datum.value % 100 === 0","value":-22},"value":-12},"tickWidth":3,"tickColor":"black","domainWidth":3,"domainColor":"black","domainCap":"square","labelFont":"Liberation Sans","labelFontSize":43,"labelColor":"black","labelPadding":48,"labelFlush":false,"labelOverlap":false,"grid":false,"title":"MEAN","titleFont":"Liberation Sans","titleFontSize":52,"titleFontWeight":"normal","titleColor":"black","titlePadding":80,"titleY":507}},
"color":{"field":"c","type":"nominal","legend":null,"scale":{"domain":[0,1,2,3,4,5,6,7,8,9,10,11,12,13,14,15,16,17,18],"range":["#3A6F9A","#000080","#17BECF","#800080","#9C9C28","#FF00FF","#00B040","#008080","#8000FF","#0000FF","#C71585","#000000","#800000","#FF0000","#3F48CC","#808000","#A8A838","#30A0D0","#A07070"]}}
}},
{"data":{"values":[{}]},"mark":{"type":"rule","strokeWidth":5,"color":"black"},
"encoding":{
"x":{"datum":496.6,"type":"quantitative","scale":{"domain":[0,1100],"nice":false,"zero":false},
"axis":{"orient":"top","values":[0,50,100,150,200,250,300,350,400,450,500,550,600,650,700,750,800,850,900,950,1000,1050,1100],"labels":false,"tickSize":{"condition":{"test":"datum.value % 100 === 0","value":-22},"value":-12},"tickWidth":3,"tickColor":"black","domainWidth":3,"domainColor":"black","domainCap":"square","grid":false,"title":null}},
"x2":{"datum":731.6},
"y":{"datum":172.5,"type":"quantitative","scale":{"domain":[0,1100],"nice":false,"zero":false},
"axis":{"orient":"right","values":[0,50,100,150,200,250,300,350,400,450,500,550,600,650,700,750,800,850,900,950,1000,1050,1100],"labels":false,"tickSize":{"condition":{"test":"datum.value % 100 === 0","value":-22},"value":-12},"tickWidth":3,"tickColor":"black","domainWidth":3,"domainColor":"black","domainCap":"square","grid":false,"title":null}}
}},
{"data":{"values":[{}]},"mark":{"type":"rule","strokeWidth":5,"color":"black"},
"encoding":{"x":{"datum":496.6,"type":"quantitative","axis":null},"x2":{"datum":731.6},"y":{"datum":84.5,"type":"quantitative","axis":null}}},
{"data":{"values":[{}]},"mark":{"type":"text","text":"PDO ADC mean","font":"Liberation Sans","fontSize":55,"align":"left","baseline":"alphabetic","color":"black"},
"encoding":{"x":{"datum":58.7,"type":"quantitative","axis":null},"y":{"datum":970,"type":"quantitative","axis":null}}},
{"data":{"values":[{}]},"mark":{"type":"text","text":"PDO - all channels shown","font":"Lato","fontWeight":"bold","fontSize":64,"align":"left","baseline":"alphabetic","color":"black"},
"encoding":{"x":{"datum":466.1,"type":"quantitative","axis":null},"y":{"datum":425.8,"type":"quantitative","axis":null}}},
{"data":{"values":[{}]},"mark":{"type":"text","text":"•","font":"Lato","fontWeight":"bold","fontSize":47,"align":"left","baseline":"alphabetic","color":"black"},
"encoding":{"x":{"datum":463,"type":"quantitative","axis":null},"y":{"datum":346.7,"type":"quantitative","axis":null}}},
{"data":{"values":[{}]},"mark":{"type":"text","text":"no saturation","font":"Lato","fontWeight":"bold","fontSize":64,"align":"left","baseline":"alphabetic","color":"black"},
"encoding":{"x":{"datum":496.6,"type":"quantitative","axis":null},"y":{"datum":337.8,"type":"quantitative","axis":null}}},
{"data":{"values":[{}]},"mark":{"type":"text","text":"•","font":"Lato","fontWeight":"bold","fontSize":47,"align":"left","baseline":"alphabetic","color":"black"},
"encoding":{"x":{"datum":463,"type":"quantitative","axis":null},"y":{"datum":259.1,"type":"quantitative","axis":null}}},
{"data":{"values":[{}]},"mark":{"type":"text","text":"residual accumulation","font":"Lato","fontWeight":"bold","fontSize":64,"align":"left","baseline":"alphabetic","color":"#A50021"},
"encoding":{"x":{"datum":496.6,"type":"quantitative","axis":null},"y":{"datum":250.2,"type":"quantitative","axis":null}}},
{"data":{"values":[{}]},"mark":{"type":"text","text":"•","font":"Lato","fontWeight":"bold","fontSize":47,"align":"left","baseline":"alphabetic","color":"black"},
"encoding":{"x":{"datum":463,"type":"quantitative","axis":null},"y":{"datum":170.8,"type":"quantitative","axis":null}}},
{"data":{"values":[{}]},"mark":{"type":"text","text":"no missing","font":"Lato","fontWeight":"bold","fontSize":64,"align":"left","baseline":"alphabetic","color":"black"},
"encoding":{"x":{"datum":496.6,"type":"quantitative","axis":null},"y":{"datum":161.9,"type":"quantitative","axis":null}}},
{"data":{"values":[{}]},"mark":{"type":"text","text":"*","font":"Lato","fontWeight":"bold","fontSize":64,"align":"left","baseline":"alphabetic","color":"#A50021"},
"encoding":{"x":{"datum":733.8,"type":"quantitative","axis":null},"y":{"datum":161.9,"type":"quantitative","axis":null}}},
{"data":{"values":[{}]},"mark":{"type":"text","text":"MSB codes","font":"Lato","fontWeight":"bold","fontSize":64,"align":"left","baseline":"alphabetic","color":"black"},
"encoding":{"x":{"datum":771.2,"type":"quantitative","axis":null},"y":{"datum":161.9,"type":"quantitative","axis":null}}},
{"data":{"values":[{}]},"mark":{"type":"text","text":"•","font":"Lato","fontWeight":"bold","fontSize":47,"align":"left","baseline":"alphabetic","color":"black"},
"encoding":{"x":{"datum":463,"type":"quantitative","axis":null},"y":{"datum":82.9,"type":"quantitative","axis":null}}},
{"data":{"values":[{}]},"mark":{"type":"text","text":"no missing","font":"Lato","fontWeight":"bold","fontSize":64,"align":"left","baseline":"alphabetic","color":"black"},
"encoding":{"x":{"datum":496.6,"type":"quantitative","axis":null},"y":{"datum":74,"type":"quantitative","axis":null}}},
{"data":{"values":[{}]},"mark":{"type":"text","text":"*","font":"Lato","fontWeight":"bold","fontSize":64,"align":"left","baseline":"alphabetic","color":"#A50021"},
"encoding":{"x":{"datum":733.8,"type":"quantitative","axis":null},"y":{"datum":74,"type":"quantitative","axis":null}}},
{"data":{"values":[{}]},"mark":{"type":"text","text":"LSB codes","font":"Lato","fontWeight":"bold","fontSize":64,"align":"left","baseline":"alphabetic","color":"black"},
"encoding":{"x":{"datum":771.2,"type":"quantitative","axis":null},"y":{"datum":74,"type":"quantitative","axis":null}}}
]
}
